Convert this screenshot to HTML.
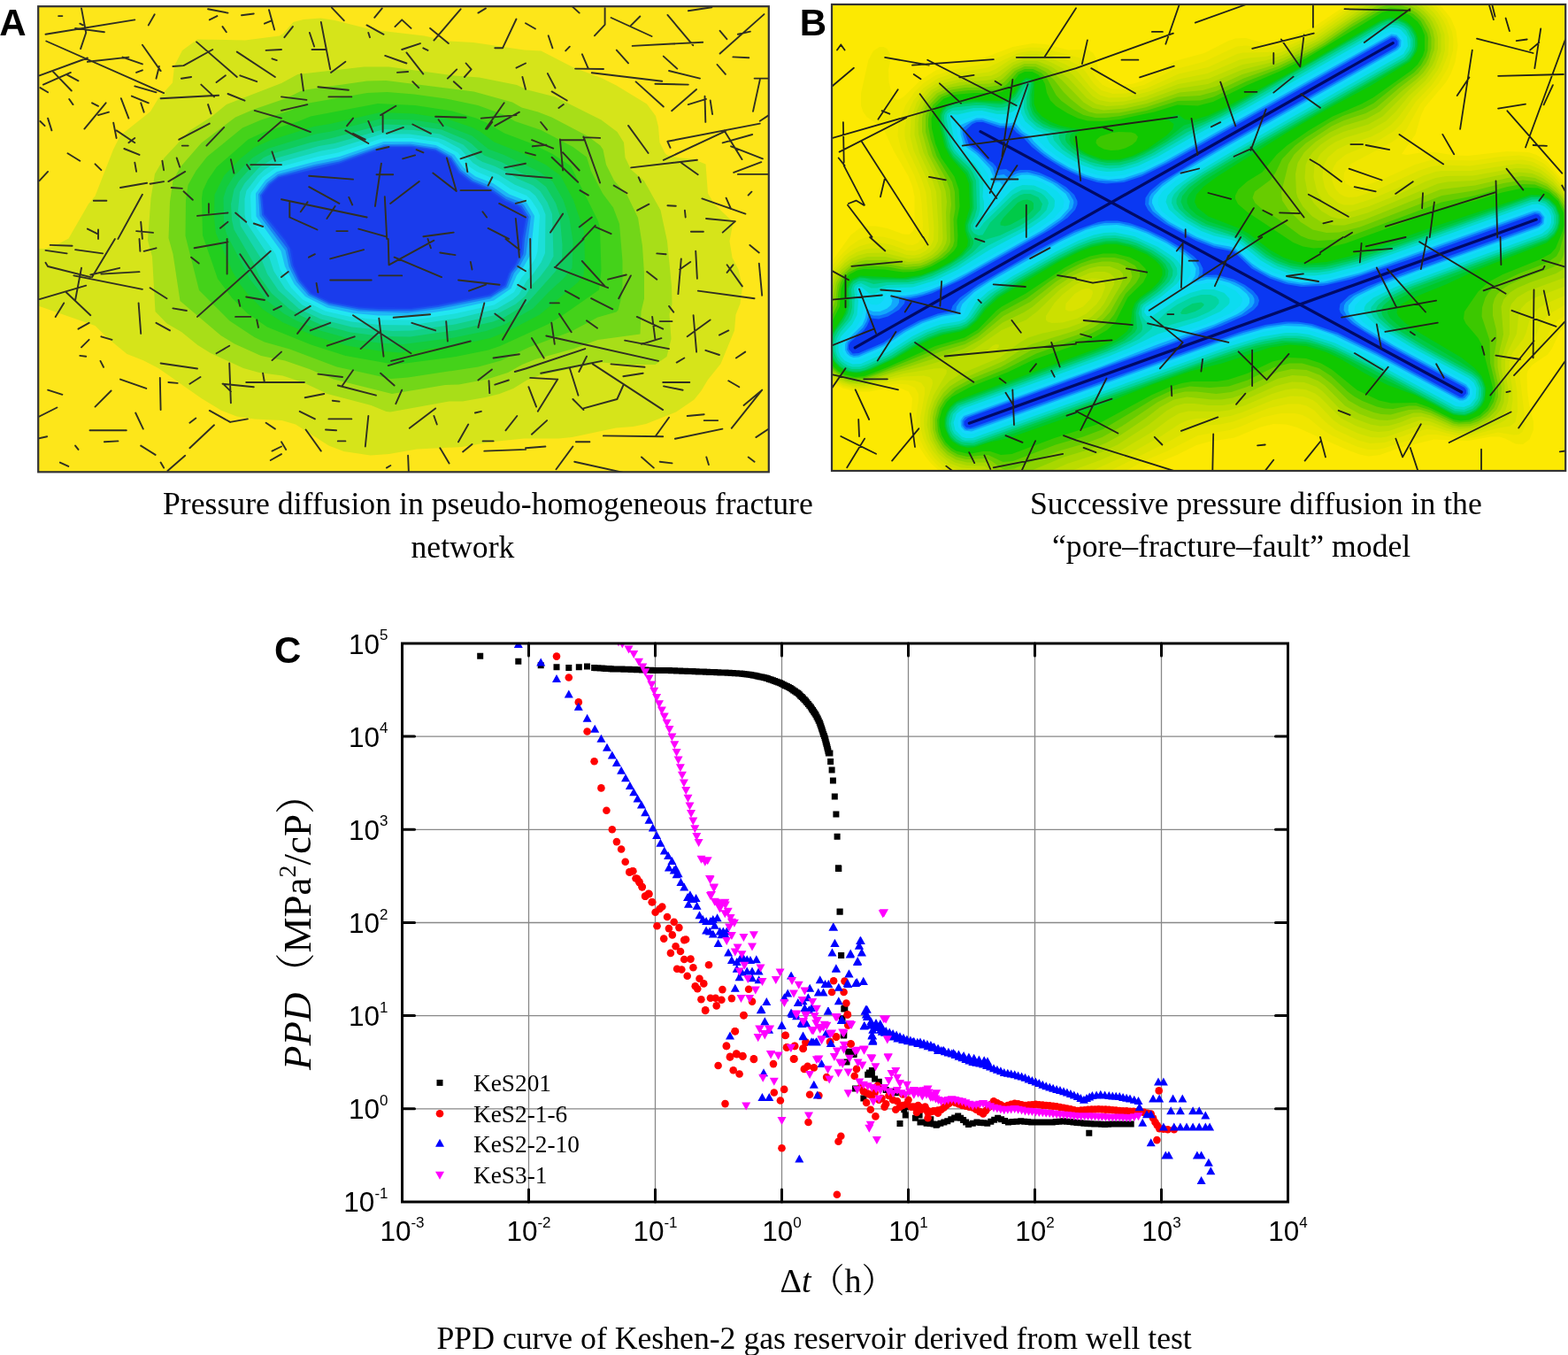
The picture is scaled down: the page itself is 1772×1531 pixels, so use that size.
<!DOCTYPE html>
<html><head><meta charset="utf-8"><title>Figure</title>
<style>html,body{margin:0;padding:0;background:#fff;width:1772px;height:1531px;overflow:hidden}
#w{position:relative;width:1772px;height:1531px} svg text{fill:#000}</style></head>
<body><div id="w">
<svg style="position:absolute;left:0;top:0" width="1772" height="1531">
<defs><clipPath id="ca"><rect x="43.2" y="7.2" width="825.5999999999999" height="526.0999999999999"/></clipPath></defs>
<g clip-path="url(#ca)"><rect x="43.2" y="7.2" width="825.5999999999999" height="526.0999999999999" fill="#fde61a"/>
<path d="M43.0 281.0 43.0 345.5 107.5 368.0 121.0 381.5 143.5 400.0 161.5 407.0 179.0 416.0 227.5 450.0 250.5 464.0 267.5 470.5 287.5 473.5 318.5 475.0 334.0 479.5 371.5 503.5 388.5 510.0 418.5 514.5 439.5 513.0 471.0 507.5 521.5 505.0 557.5 499.0 592.0 495.5 631.0 495.5 646.5 494.0 696.0 483.5 715.5 482.0 730.0 479.0 764.0 465.5 784.5 451.5 792.5 441.5 800.0 429.0 814.5 411.0 830.0 373.5 831.5 355.5 836.5 343.0 839.0 324.5 834.5 304.5 827.5 291.0 824.5 272.5 828.5 251.0 807.5 231.0 800.0 218.5 797.5 185.5 784.0 180.0 765.5 178.0 753.5 175.0 751.5 173.0 745.5 161.0 744.0 143.0 741.0 131.0 731.0 117.5 696.5 96.5 680.5 88.5 646.5 75.5 611.5 57.5 592.5 56.5 535.0 48.0 506.5 46.5 479.5 40.5 420.0 33.5 378.5 23.0 362.5 20.5 343.0 22.0 331.5 25.0 320.0 38.0 316.0 40.5 277.0 45.5 223.0 44.5 206.0 57.0 197.0 74.5 195.0 93.5 179.0 111.0 170.0 126.0 136.0 153.0 128.0 169.0 107.5 221.5 100.0 230.5 77.5 269.5 60.5 278.5 50.0 281.0z" fill="#d6e41a" fill-rule="evenodd"/>
<path d="M175.0 196.5 170.5 224.0 167.0 271.5 172.0 290.0 175.5 352.0 188.5 365.5 205.0 375.0 223.5 390.0 238.0 399.0 275.0 416.0 293.0 421.0 319.5 424.5 343.5 432.5 370.0 445.0 419.5 458.0 436.5 465.0 441.0 465.5 507.5 453.5 522.5 453.5 548.5 449.0 564.5 445.0 580.0 439.0 595.5 429.5 610.0 424.0 679.5 409.5 711.5 412.0 740.5 412.0 753.5 403.0 758.5 383.0 756.5 355.0 759.5 343.5 759.0 323.5 754.0 272.5 746.5 237.5 728.0 204.5 713.0 191.5 706.5 178.0 705.0 161.0 697.5 149.0 679.5 135.5 627.5 109.5 596.0 101.5 584.0 96.0 541.5 87.5 513.5 85.5 439.5 75.5 411.5 75.5 336.5 84.0 318.0 94.0 256.0 118.0 239.5 131.5 214.5 147.5 185.5 178.5z" fill="#a8de18" fill-rule="evenodd"/>
<path d="M195.5 204.0 192.0 228.0 190.5 269.0 195.5 287.0 203.5 340.0 249.5 379.0 265.0 388.5 295.0 402.0 322.0 407.5 349.5 417.0 377.0 428.5 443.0 445.0 503.0 435.0 518.5 434.5 550.5 428.5 574.0 421.0 590.0 412.0 605.0 406.0 648.5 394.0 675.5 384.0 723.5 377.5 724.5 352.0 728.0 337.5 728.0 309.0 726.0 278.0 721.0 246.0 709.0 221.0 694.0 204.0 685.0 186.0 681.5 169.0 678.5 164.5 664.5 154.0 623.5 132.5 608.0 126.5 589.5 121.5 579.0 115.5 535.5 103.5 436.5 91.0 415.0 91.5 342.0 102.0 323.5 111.0 287.0 123.5 266.0 132.5 227.5 161.5 204.0 188.5z" fill="#72d618" fill-rule="evenodd"/>
<path d="M212.5 209.0 210.0 226.5 209.5 266.5 225.0 328.0 259.5 362.5 287.5 381.0 299.0 386.5 327.5 394.5 380.5 414.5 442.0 428.0 461.0 426.5 540.5 414.5 566.0 407.5 597.5 392.5 645.5 374.5 675.5 358.5 696.5 352.5 698.5 350.5 702.0 337.0 703.5 322.0 703.5 295.0 700.0 253.0 693.0 234.5 681.0 218.5 668.0 193.5 663.0 177.5 647.5 166.0 611.5 147.0 582.0 137.0 569.0 129.5 540.0 119.0 504.0 111.5 468.0 106.5 437.5 104.0 415.0 105.0 346.0 117.0 329.0 124.5 295.0 135.5 274.0 144.5 234.0 177.0 221.5 193.0z" fill="#44d21a" fill-rule="evenodd"/>
<path d="M229.0 216.0 228.0 224.5 229.0 266.0 246.0 315.0 262.5 337.0 279.5 354.0 302.0 369.5 351.5 389.5 390.5 402.0 444.0 411.5 450.5 411.5 515.0 403.0 552.0 395.5 565.0 391.0 619.0 366.5 634.0 357.5 677.0 327.5 679.5 305.0 678.0 257.5 676.0 250.0 645.0 187.5 624.5 174.0 599.0 161.5 570.0 150.5 548.5 138.0 538.0 133.5 511.0 125.5 469.0 119.0 427.0 117.0 351.0 131.5 337.5 137.0 299.0 149.0 280.5 157.5 245.0 188.5 235.0 203.0z" fill="#22ce1e" fill-rule="evenodd"/>
<path d="M242.5 220.0 242.0 247.0 244.0 263.5 262.5 306.5 271.5 321.5 279.0 331.0 297.0 349.5 320.0 364.5 356.5 380.0 391.5 390.5 428.5 396.5 452.0 398.5 514.5 390.5 554.0 382.0 574.5 374.0 610.0 355.5 653.0 319.0 659.5 311.0 661.0 295.0 660.0 261.5 648.0 226.0 633.5 198.5 616.5 186.0 590.0 173.0 558.5 160.5 543.0 149.0 533.5 144.0 504.0 134.0 467.5 128.5 429.5 127.0 373.0 140.0 354.5 143.0 305.5 158.5 287.5 166.5 272.0 179.0 253.5 198.0z" fill="#14cc3c" fill-rule="evenodd"/>
<path d="M252.5 223.5 253.0 252.0 256.0 264.5 282.5 315.5 301.5 339.5 321.0 354.5 335.5 362.5 360.0 373.0 396.0 383.0 428.0 387.5 455.5 389.0 513.0 381.5 549.5 374.0 570.5 366.5 602.5 348.5 620.5 329.5 636.5 315.0 646.5 303.0 647.5 273.0 643.5 247.0 636.5 226.0 624.5 205.0 609.5 194.0 569.5 175.0 552.0 168.5 533.5 153.5 500.5 140.5 467.0 135.5 429.0 134.5 374.5 148.5 356.5 151.5 302.5 168.0 285.0 178.5 263.5 200.0 256.0 212.5z" fill="#10cc5c" fill-rule="evenodd"/>
<path d="M264.5 214.0 261.0 230.5 262.0 248.5 264.5 259.5 286.5 297.0 293.0 312.0 307.0 331.5 327.0 349.0 340.5 357.0 362.0 366.5 396.0 375.5 431.5 380.0 463.5 380.5 516.0 373.0 557.0 363.5 570.0 358.5 595.0 343.5 627.0 307.5 635.0 296.0 635.5 277.0 632.5 243.0 628.0 229.5 617.0 211.0 606.0 202.5 589.5 195.5 567.5 183.5 547.0 175.5 533.0 162.5 525.5 157.5 499.0 146.5 465.5 141.5 433.5 140.5 375.0 156.0 351.0 161.0 308.0 173.5 298.0 178.0 283.0 190.0 270.0 204.5z" fill="#12d086" fill-rule="evenodd"/>
<path d="M271.0 217.0 269.0 237.5 272.0 255.5 295.5 293.0 302.0 309.5 314.5 328.0 338.0 349.0 362.5 360.5 397.5 369.5 443.5 374.0 466.5 373.5 514.0 366.5 559.5 356.0 583.0 343.5 593.5 334.5 602.0 321.0 610.5 312.5 620.0 300.0 625.5 289.5 624.0 242.0 618.5 228.5 610.5 216.0 602.5 209.5 584.0 201.5 575.0 195.5 558.5 187.5 545.5 183.0 539.5 179.5 523.5 163.5 497.0 151.5 467.5 147.0 434.0 146.0 378.0 162.0 360.5 165.0 307.5 180.0 292.5 189.5 276.5 207.0z" fill="#16d6b0" fill-rule="evenodd"/>
<path d="M278.5 215.5 276.5 224.5 276.5 242.5 278.5 251.5 304.0 290.0 309.5 306.5 322.0 326.0 341.5 344.5 364.5 355.5 397.0 363.5 428.0 367.0 464.0 367.5 517.5 359.5 561.5 349.0 579.5 338.5 586.5 332.5 595.0 317.5 602.5 309.5 611.5 296.5 616.0 286.0 616.5 242.5 612.5 232.5 605.0 221.0 598.5 215.5 581.5 208.5 563.0 197.0 542.5 189.0 534.5 184.0 520.0 168.0 502.5 158.5 495.0 156.0 462.5 151.5 431.5 151.5 380.0 167.5 363.0 170.5 310.0 185.0 299.0 191.5 291.5 198.5z" fill="#1cdfd8" fill-rule="evenodd"/>
<path d="M284.0 217.5 283.0 221.5 284.0 247.0 291.0 259.0 311.5 287.0 316.5 304.5 329.0 325.0 342.0 338.5 367.5 351.5 396.0 358.0 428.0 361.5 467.0 361.5 513.5 354.5 558.5 344.5 581.0 330.0 589.5 313.5 595.5 307.0 605.0 292.0 607.5 284.0 610.0 243.5 607.5 237.0 600.0 225.5 595.0 221.0 577.0 213.5 564.0 204.5 539.0 194.0 530.0 188.0 517.5 172.5 495.0 160.5 465.0 156.0 431.0 156.5 382.0 172.5 359.0 177.0 311.0 190.0 296.5 200.5z" fill="#22e6f2" fill-rule="evenodd"/>
<path d="M289.0 218.5 289.5 244.5 317.5 283.5 322.0 301.0 332.5 321.0 345.0 335.0 369.5 347.5 399.5 354.0 428.0 356.5 466.5 356.5 512.5 349.5 558.0 339.5 577.5 326.0 584.0 311.0 592.0 301.0 598.5 289.5 600.0 284.0 604.0 244.0 595.5 229.5 592.0 226.0 575.5 219.5 557.0 207.0 537.5 199.5 524.0 189.5 513.5 175.0 492.5 164.0 465.5 160.0 434.0 160.0 383.5 177.0 354.5 183.0 313.0 194.0 300.0 203.5z" fill="#1eb8f6" fill-rule="evenodd"/>
<path d="M292.0 219.5 293.5 244.0 322.5 283.0 326.5 301.5 335.0 318.5 348.5 334.0 371.5 345.0 405.0 351.5 460.5 353.5 496.5 349.0 554.0 337.5 574.0 325.0 581.0 308.5 587.5 300.5 594.5 287.5 600.0 244.5 592.0 231.5 587.5 228.0 572.0 222.0 556.5 211.0 535.5 202.5 521.5 192.0 510.5 176.5 493.5 167.0 463.5 162.5 433.5 163.0 383.0 180.5 355.5 186.0 314.0 197.0 302.0 206.0z" fill="#1a88f2" fill-rule="evenodd"/>
<path d="M294.0 220.5 296.0 243.0 324.5 280.5 329.0 300.5 337.5 318.0 350.0 332.5 371.5 343.0 406.0 349.5 428.5 351.0 465.0 351.0 495.0 347.0 555.0 335.0 572.0 324.0 578.0 308.5 585.0 299.5 591.5 287.0 593.0 270.0 597.5 245.0 589.5 232.5 572.0 225.0 555.0 213.0 534.0 204.5 519.5 193.0 510.0 178.5 492.0 168.5 465.0 164.5 435.0 164.5 383.5 182.5 356.5 188.0 314.5 199.0 303.5 207.5z" fill="#1a5af0" fill-rule="evenodd"/>
<path d="M296.0 220.5 298.0 242.0 321.5 271.0 327.5 280.5 331.0 299.5 338.5 316.0 351.5 331.5 372.5 341.5 405.5 347.5 428.5 349.0 465.0 349.0 495.0 345.0 553.5 333.5 571.0 322.0 575.5 309.0 583.0 298.5 589.5 284.5 590.5 270.0 595.0 245.0 588.5 235.0 585.5 232.5 571.0 227.0 553.5 214.5 532.0 205.5 518.5 195.0 508.5 179.5 492.0 170.0 465.0 166.0 435.5 166.0 383.5 184.5 315.0 200.5 305.0 208.5z" fill="#1a42ee" fill-rule="evenodd"/>
<path d="M297.5 222.0 299.5 240.5 324.0 271.0 330.5 283.0 332.5 298.0 340.0 315.0 352.5 330.0 374.0 340.0 407.0 346.0 463.5 347.5 493.5 343.5 552.0 332.0 569.0 321.5 576.0 304.0 582.0 296.5 587.5 285.0 589.0 267.5 593.0 245.5 586.5 235.5 569.0 228.0 551.5 215.5 531.5 207.5 517.0 196.0 507.5 181.0 490.5 171.5 463.5 167.5 435.0 168.0 383.0 186.5 357.5 191.5 316.5 202.0 306.5 209.5z" fill="#1a3cec" fill-rule="evenodd"/>

<path d="M51.5 38.8L152.3 22.4M92.0 9.4L97.2 37.0M97.2 37.0L91.1 55.1M85.1 31.9L117.9 36.2M52.3 46.5L185.1 105.1M44.6 85.3L98.9 65.5M98.9 69.8L145.4 64.6M138.5 64.6L160.9 72.4M48.9 95.6L79.9 81.9M59.2 80.1L80.8 102.5M45.4 99.1L54.1 104.3M75.6 84.4L88.5 91.3M167.8 28.4L174.7 16.3M160.9 50.8L181.6 80.1M176.5 88.7L179.9 75.0M154.1 81.9L160.9 79.3M152.3 97.4L176.5 104.3M195.4 75.0L207.5 74.1M207.5 74.1L240.2 56.0M222.1 47.4L267.8 87.0M267.8 58.6L310.9 87.0M244.6 93.1L254.9 85.3M271.3 85.3L290.2 92.2M204.9 88.7L216.1 87.0M181.6 111.2L247.1 107.7M227.3 95.6L242.0 109.4M257.5 106.0L276.5 113.7M235.1 118.1L238.5 128.4M136.8 111.2L145.4 133.6M148.9 108.6L167.8 116.3M159.2 116.3L162.7 126.7M95.4 145.6L119.6 116.3M104.1 116.3L111.0 119.8M111.0 130.1L123.0 126.7M54.1 133.6L58.4 147.4M45.4 137.0L50.6 142.2M128.2 138.7L131.6 156.0M131.6 147.4L152.3 161.2M140.3 168.0L157.5 174.9M145.4 161.2L152.3 156.0M202.3 157.7L236.8 139.6M233.4 164.6L253.2 143.9M205.8 164.6L212.7 164.6M287.7 124.9L318.0 133.6M292.0 159.4L318.0 137.0M307.5 171.5L310.9 181.8M260.9 180.1L264.4 195.6M283.3 186.1L318.0 186.1M279.0 186.1L282.5 191.3M152.3 183.6L154.1 193.9M183.4 181.8L185.1 192.2M199.7 178.4L203.2 188.7M190.3 205.1L209.2 193.9M136.0 212.0L166.1 206.8M169.6 207.7L185.1 205.1M193.7 212.0L205.8 212.9M207.5 216.3L217.8 225.8M105.8 226.7L120.4 226.7M160.9 219.8L133.4 269.9M235.9 230.1L235.9 240.5M223.0 243.9L257.5 240.5M266.1 240.5L278.2 250.8M248.9 257.7L257.5 250.8M286.8 252.5L297.1 256.0M98.9 258.6L111.0 264.6M111.0 259.4L111.0 269.9M159.2 250.8L160.9 269.9M154.1 261.1L173.0 262.9M44.6 204.2L54.1 193.9M76.5 173.2L90.3 181.8M107.5 185.3L114.4 192.2M66.1 18.1L70.4 18.1M235.1 10.3L257.5 14.6M236.8 22.4L245.4 18.1M273.0 17.2L286.8 15.5M304.0 11.2L310.1 33.6M298.9 26.7L307.5 23.2M251.5 30.1L255.8 36.2M300.6 56.9L318.0 56.0M307.5 66.3L312.7 68.1M78.2 112.0L82.5 118.1M90.3 26.7L93.7 28.4M374.9 8.6L388.7 23.2M423.2 19.8L431.8 9.4M362.8 25.0L373.2 78.4M349.9 37.0L355.1 52.5M352.5 56.0L368.0 56.0M374.0 81.9L390.4 69.8M321.4 42.2L330.9 30.1M414.5 28.4L433.5 38.8M416.3 37.0L418.0 42.2M446.4 30.1L454.2 22.4M454.2 22.4L464.5 31.9M486.1 31.9L506.8 49.1M490.4 45.6L520.6 10.3M540.4 14.6L549.0 9.4M559.3 54.3L568.0 54.3M568.0 54.3L583.5 21.5M435.2 62.9L459.4 71.5M454.2 56.0L474.9 49.1M478.3 54.3L483.5 56.9M459.4 59.4L478.3 83.6M449.0 81.9L461.1 81.0M505.9 88.7L516.2 78.4M512.8 92.2L521.4 100.0M526.6 71.5L532.6 78.4M532.6 78.4L524.9 87.0M583.5 76.7L594.0 71.5M590.4 87.0L594.0 100.8M340.4 83.6L343.0 102.5M359.4 98.2L393.9 101.7M371.4 109.4L397.3 109.4M318.0 109.4L346.4 112.9M318.0 124.9L347.3 118.1M319.7 137.0L350.8 149.1M466.3 92.2L473.2 99.1M392.1 142.2L399.0 133.6M390.4 147.4L416.3 162.0M399.0 150.8L412.8 157.7M416.3 137.0L421.4 149.1M430.1 130.1L447.3 119.8M432.6 130.1L432.6 149.1M436.9 150.8L455.9 143.9M466.3 140.5L486.9 150.8M492.1 131.8L526.6 132.7M495.6 135.3L500.7 142.2M549.0 145.6L569.7 116.3M543.8 133.6L583.5 130.1M559.3 142.2L586.9 126.7M349.2 198.7L399.0 202.6M430.9 184.7L423.9 233.0M425.5 197.2L444.2 197.2M441.1 229.9L473.8 205.0M434.8 222.1L437.2 269.9M489.3 195.6L515.8 215.9M504.9 178.5L515.8 215.9M520.5 215.1L554.8 215.1M520.5 179.3L543.9 171.5M526.7 184.7L528.3 194.1M551.6 209.6L556.3 200.3M349.2 211.2L383.4 229.9M318.0 225.2L414.6 245.5M327.3 228.3L327.3 245.5M327.3 245.5L358.5 259.5M339.8 239.2L347.6 228.3M369.4 247.0L378.7 233.0M394.3 222.9L398.2 231.5M425.5 169.2L439.5 166.0M455.1 179.3L469.1 175.4M470.6 169.2L478.4 172.3M380.3 261.1L392.8 261.1M405.2 258.7L436.4 267.3M478.4 267.3L512.7 262.6M545.4 239.2L550.1 245.5M551.6 257.9L575.0 269.9M564.1 229.9L594.0 245.5M582.8 247.0L585.1 269.9M570.3 189.4L594.0 184.7M571.9 196.4L594.0 198.7M582.8 229.9L594.0 226.8M550.1 145.8L556.3 138.0M647.0 7.6L654.7 14.6M683.6 9.1L683.6 27.8M683.6 27.8L671.9 40.3M690.6 20.0L736.5 41.0M712.4 29.4L723.3 18.5M594.0 26.2L604.9 32.5M619.7 40.3L624.4 54.3M639.2 57.4L643.8 52.7M657.9 61.3L664.9 77.6M650.1 77.6L682.0 78.0M668.8 82.3L748.2 91.7M696.8 56.6L710.0 71.4M714.7 51.9L794.2 47.7M754.4 16.9L783.2 51.2M749.8 63.6L765.3 77.6M756.0 80.0L791.0 88.6M718.6 92.4L749.8 120.5M740.4 94.8L777.8 95.6M759.1 125.2L787.1 101.0M777.8 118.1L798.0 111.9M796.5 108.8L797.3 137.9M802.7 113.5L805.1 129.1M813.6 34.8L821.4 44.2M813.6 60.5L863.5 16.1M833.9 38.7L847.9 35.6M810.5 73.0L819.9 83.9M828.4 64.4L846.3 65.2M858.8 90.1L851.0 125.9M852.6 88.6L868.1 88.6M858.8 136.8L868.1 130.6M777.8 12.2L804.3 8.3M618.9 83.1L627.5 99.5M623.6 103.4L640.7 113.5M631.4 122.0L636.8 118.1M611.1 138.0L618.1 146.6M710.0 141.9L732.6 173.0M754.4 159.8L757.5 166.8M754.4 159.8L858.8 139.6M749.8 180.8L819.9 148.1M818.3 147.3L838.5 180.1M816.7 161.4L850.2 152.0M826.1 165.3L861.9 179.3M829.2 194.9L860.3 183.2M833.9 196.9L868.1 196.9M713.2 189.4L787.9 180.8M770.0 183.9L788.7 197.2M721.7 200.3L724.1 205.8M793.4 224.4L842.4 241.6M820.6 223.7L826.1 236.1M798.0 247.0L830.8 250.1M830.8 250.1L816.7 262.6M780.9 261.8L794.9 261.8M773.9 237.7L774.7 245.5M754.4 232.2L763.8 232.7M720.2 237.7L733.4 230.7M693.7 209.6L708.5 218.2M655.5 215.1L664.9 220.6M659.4 155.1L678.1 155.9M659.4 154.4L678.1 206.5M632.9 157.5L636.1 192.5M633.7 158.2L659.4 158.2M601.0 158.2L625.2 167.6M601.8 165.3L617.4 163.7M623.6 177.7L653.2 205.8M636.1 172.3L654.7 192.5M594.0 198.7L623.6 201.1M594.0 172.3L604.9 175.4M622.0 262.6L636.1 241.6M654.7 256.4L668.8 245.5M658.6 269.9L672.7 254.8M672.7 256.4L690.6 264.2M845.6 220.6L849.4 216.7M56.7 276.9L81.6 277.8M51.5 282.9L75.6 286.4M85.1 282.1L116.1 286.4M129.9 270.0L104.1 313.1M51.5 296.7L54.1 301.0M54.1 301.0L102.3 313.1M92.0 302.8L85.1 339.0M83.4 311.4L160.9 326.9M102.3 310.5L135.1 302.8M114.4 309.6L157.5 307.1M44.6 338.1L97.2 322.6M74.8 330.3L102.3 356.2M62.7 357.9L72.2 342.4M88.5 371.7L100.6 364.8M92.0 392.4L100.6 383.8M114.4 380.3L126.5 383.8M156.6 342.4L159.2 376.9M169.6 325.2L188.5 337.2M176.5 364.8L192.0 373.4M157.5 270.0L158.4 283.8M162.7 283.8L176.5 280.3M195.4 348.4L210.9 351.0M216.1 290.7L224.7 297.6M219.6 280.3L257.5 273.4M256.6 270.0L256.6 309.6M271.3 287.2L303.2 334.6M223.0 357.9L305.8 283.8M266.1 357.9L283.3 357.9M278.2 335.5L298.9 339.0M290.2 361.4L292.0 370.0M269.6 339.0L271.3 345.9M244.6 399.3L259.2 390.7M307.5 407.1L318.0 397.6M309.2 350.2L318.0 345.9M181.6 410.5L223.0 416.5M214.4 433.8L226.5 426.0M259.2 410.5L260.9 455.3M251.5 433.8L286.8 437.2M252.3 433.8L260.9 442.4M278.2 432.0L318.0 432.0M297.1 421.7L298.9 432.0M190.3 432.0L200.6 432.9M180.8 426.9L181.6 463.1M136.0 428.6L165.3 438.9M107.5 459.6L125.6 441.5M54.1 440.7L70.4 445.8M42.0 471.7L64.4 460.5M113.5 407.9L117.0 414.8M90.3 401.9L97.2 402.7M236.8 463.9L260.1 476.9M260.1 476.9L279.9 473.4M214.4 477.7L221.3 472.6M153.2 466.5L161.8 484.6M101.5 486.3L142.8 486.3M117.9 499.3L133.4 498.4M214.4 506.2L242.0 480.3M300.6 477.7L310.9 484.6M307.5 509.6L318.0 504.5M305.8 520.0L318.0 513.1M42.0 495.8L53.2 493.2M159.2 503.6L175.6 513.9M189.4 532.0L209.2 514.8M181.6 522.6L185.1 528.6M67.9 522.6L77.3 526.9M85.1 503.6L88.5 507.9M318.0 313.1L325.8 307.1M349.0 290.7L355.9 287.2M373.2 292.4L411.1 282.1M438.7 270.0L439.5 299.3M439.5 299.3L490.4 271.7M445.6 290.7L499.0 313.1M483.5 270.0L486.9 280.3M497.3 285.5L514.5 288.1M531.8 295.9L533.5 304.5M571.4 270.0L586.9 282.1M585.2 270.0L586.9 290.7M357.6 320.0L359.4 330.3M373.2 316.5L419.7 316.5M428.3 311.4L454.2 311.4M518.0 316.5L564.5 321.7M530.0 328.6L549.0 321.7M540.4 370.0L547.3 342.4M559.3 354.5L569.7 362.2M568.0 383.8L594.0 339.0M585.2 301.0L594.0 306.2M585.2 321.7L594.0 326.9M333.5 356.2L350.8 345.9M336.1 376.9L349.9 358.8M350.8 373.4L373.2 364.8M369.7 390.7L400.7 380.3M399.0 356.2L464.5 399.3M428.3 359.6L433.5 402.7M407.6 394.1L428.3 375.2M442.1 407.9L531.8 385.5M438.7 413.1L455.9 407.9M504.2 363.1L505.9 385.5M465.4 364.8L492.1 373.4M444.7 358.8L486.1 355.3M557.6 404.5L586.9 400.2M581.8 420.0L594.0 416.5M540.4 429.5L555.9 417.4M552.5 430.3L553.3 444.1M559.3 434.6L574.9 429.5M359.4 422.6L387.0 426.0M318.0 432.0L343.9 432.0M387.0 435.5L399.0 418.3M381.8 435.5L424.9 446.7M430.1 421.7L445.6 435.5M447.3 456.2L454.2 440.7M344.7 449.3L366.3 445.0M375.8 452.7L383.5 453.6M338.7 464.8L355.9 473.4M371.4 473.4L397.3 473.4M416.3 470.0L412.8 504.5M462.8 483.8L492.1 461.4M490.4 470.0L493.8 479.5M518.0 499.3L529.2 479.5M536.9 466.5L543.8 464.8M571.4 486.3L584.3 470.0M545.6 498.4L557.6 498.4M523.1 510.5L533.5 501.9M547.3 509.6L594.0 507.9M497.3 506.2L507.6 523.4M461.1 514.8L461.9 533.9M368.0 485.5L380.1 486.3M381.8 498.4L390.4 498.4M345.6 485.5L362.8 509.6M318.0 499.3L323.2 507.9M436.9 528.6L441.3 526.0M628.5 301.0L659.5 270.0M626.8 301.9L687.1 325.2M657.8 295.0L683.6 323.4M687.1 315.7L707.8 310.5M699.2 337.2L712.9 311.4M599.2 270.0L600.0 325.2M621.6 342.4L631.9 342.4M631.9 354.5L645.7 375.2M638.8 328.6L654.3 337.2M668.1 337.2L692.3 349.3M663.0 362.2L675.0 370.8M623.3 364.8L626.8 388.9M617.3 379.5L744.0 407.9M600.9 382.1L614.7 404.5M594.0 416.5L661.2 394.1M611.2 421.7L680.2 407.9M654.3 420.0L663.0 402.7M644.0 416.5L653.5 446.7M599.2 426.9L630.2 428.6M597.4 437.2L606.1 459.6M607.8 464.8L630.2 428.6M647.4 451.0L659.5 463.1M659.5 461.4L697.4 451.0M697.4 451.0L704.3 435.5M669.9 411.4L749.2 463.1M690.5 411.4L728.5 414.8M704.3 425.2L726.7 421.7M706.1 384.6L756.0 394.1M725.0 388.9L747.4 382.1M719.8 357.9L749.2 371.7M737.1 357.9L740.5 383.8M745.7 363.1L759.5 363.1M756.0 345.9L761.2 352.7M749.2 432.0L779.3 432.0M750.0 436.4L771.6 440.7M766.4 332.1L769.8 292.4M768.1 304.5L780.2 295.9M786.2 283.8L787.9 314.8M731.1 307.1L742.3 315.7M742.3 286.4L752.6 287.2M847.4 276.9L857.8 285.5M788.8 328.6L852.6 337.2M821.6 299.3L838.8 323.4M821.6 307.9L828.5 299.3M857.8 297.6L861.2 333.8M783.6 356.2L787.1 397.6M776.7 380.3L802.6 361.4M797.4 395.8L812.9 401.0M812.9 378.6L823.3 373.4M764.7 409.6L773.3 404.5M831.9 404.5L842.2 397.6M823.3 430.3L835.3 437.2M861.2 440.7L840.5 457.9M776.7 470.0L795.7 468.2M795.7 475.1L811.2 475.1M681.9 492.4L749.2 493.2M740.5 493.2L756.0 471.7M762.9 495.8L816.4 484.6M600.9 490.7L618.1 475.1M650.9 499.3L666.4 499.3M594.0 506.2L616.4 504.5M628.5 530.3L647.4 504.5M649.2 521.7L704.3 533.9M725.0 516.5L738.8 528.6M745.7 521.7L759.5 523.4M798.3 516.5L800.9 525.1M845.7 516.5L852.6 521.7M826.7 483.8L861.2 440.7M854.3 494.1L870.0 483.8" stroke="#302f22" stroke-width="1.9" fill="none" stroke-linecap="round"/>
</g>
<rect x="43.2" y="7.2" width="825.5999999999999" height="526.0999999999999" fill="none" stroke="#333" stroke-width="2.2"/>
</svg>
<svg style="position:absolute;left:0;top:0" width="1772" height="1531">
<defs><clipPath id="cb"><rect x="940" y="5" width="829.2" height="527"/></clipPath></defs>
<g clip-path="url(#cb)"><rect x="940" y="5" width="829.2" height="527" fill="#fce902"/>
<path d="M1768.5 206.5 1748.5 182.5 1736.5 175.0 1727.0 172.0 1703.5 171.0 1659.0 176.0 1644.0 175.5 1621.0 172.0 1605.0 172.5 1590.0 175.0 1584.0 174.0 1599.5 152.0 1606.0 130.0 1610.0 121.5 1634.0 93.0 1639.5 83.5 1644.5 70.0 1647.5 51.5 1645.5 34.5 1639.5 20.5 1627.0 5.0 1522.5 5.0 1485.5 30.0 1451.0 45.0 1438.5 48.5 1429.5 49.0 1408.0 43.0 1396.0 43.5 1387.5 46.5 1361.0 60.0 1327.5 69.0 1303.0 85.0 1290.5 91.5 1281.0 94.5 1269.0 96.0 1254.5 93.5 1245.5 86.5 1241.5 79.0 1238.5 65.5 1235.5 60.0 1231.0 57.0 1227.0 56.0 1207.5 56.5 1181.5 50.0 1167.0 49.0 1144.5 53.0 1103.5 68.5 1068.0 76.0 1057.5 79.5 1041.0 90.0 1021.5 109.0 1016.0 112.5 1013.5 112.5 1010.5 110.5 1008.5 107.0 1004.5 93.0 1004.0 79.0 1006.0 69.5 1006.0 61.0 1002.5 55.0 998.5 53.0 994.0 53.0 987.0 57.5 981.5 67.5 973.0 105.5 973.0 119.5 975.5 126.5 979.5 132.0 994.5 142.5 999.0 147.0 1010.0 170.5 1026.5 199.0 1031.0 210.5 1033.5 222.0 1033.5 255.5 1032.0 261.0 1027.5 265.0 1020.5 264.5 1002.5 258.0 990.0 255.5 980.0 255.5 972.0 257.5 961.5 265.5 940.0 295.5 940.0 432.0 952.0 438.5 967.5 442.5 982.5 442.5 1004.0 438.0 1016.0 438.0 1027.0 442.5 1031.0 450.0 1029.0 478.5 1031.5 490.0 1038.0 503.5 1046.0 516.0 1052.0 523.5 1062.0 532.5 1287.5 532.5 1295.5 528.0 1330.0 514.0 1352.0 503.0 1366.5 499.0 1395.0 494.5 1423.0 483.0 1439.0 479.0 1453.5 479.5 1466.0 483.0 1523.0 508.5 1536.5 513.5 1546.5 515.5 1559.5 514.0 1581.5 506.0 1620.5 496.5 1659.0 498.0 1684.5 493.5 1694.5 493.5 1701.0 495.5 1712.5 501.5 1721.0 502.0 1728.5 496.5 1733.0 485.5 1733.0 476.5 1728.0 457.0 1726.0 440.5 1725.5 423.0 1726.5 419.0 1732.0 412.0 1749.0 400.5 1753.5 394.5 1762.5 375.5 1768.5 369.0z" fill="#f0e600" fill-rule="evenodd"/>
<path d="M1768.5 210.5 1754.0 193.0 1744.5 184.5 1731.5 178.0 1717.0 175.5 1695.5 177.0 1665.0 181.5 1618.5 180.5 1599.0 186.0 1564.0 202.0 1542.5 210.0 1536.0 211.5 1528.0 211.5 1521.0 207.5 1518.5 202.0 1519.0 195.5 1522.0 190.0 1527.0 185.0 1573.0 160.5 1581.5 154.5 1589.0 147.0 1605.5 117.0 1626.0 94.0 1636.5 76.5 1642.0 57.5 1642.5 45.5 1641.0 36.0 1635.0 21.5 1622.0 5.0 1528.0 5.0 1489.5 32.0 1475.0 39.5 1448.5 50.5 1430.0 54.5 1408.5 51.5 1397.5 52.5 1361.0 69.5 1325.5 79.0 1293.0 96.0 1271.5 101.0 1256.5 100.5 1246.0 96.0 1238.0 87.5 1229.0 71.5 1220.5 65.5 1177.5 54.0 1164.0 53.5 1150.0 56.0 1110.5 72.5 1076.5 79.0 1057.5 85.0 1043.5 94.0 1033.5 104.0 1023.5 118.5 1015.5 138.5 1014.5 153.5 1018.5 168.5 1033.0 197.5 1039.5 215.5 1041.5 229.0 1043.0 255.0 1042.0 268.0 1037.5 274.5 1031.5 277.0 1025.0 276.5 1011.5 271.0 998.0 267.5 986.0 267.0 977.5 268.5 970.0 271.5 960.0 278.5 949.0 289.5 940.0 301.0 940.0 430.0 953.0 437.0 968.0 440.5 982.5 440.0 999.5 435.5 1013.5 433.5 1026.0 434.5 1034.0 438.0 1038.0 445.0 1038.0 452.5 1035.5 467.5 1035.5 482.0 1038.5 494.0 1044.0 506.0 1052.0 518.0 1060.0 526.5 1068.0 532.5 1271.0 532.5 1292.5 521.0 1319.5 509.5 1354.0 492.0 1389.5 486.0 1402.0 482.0 1426.5 471.5 1447.5 467.0 1463.0 467.0 1472.0 469.0 1479.5 473.0 1494.5 485.5 1505.0 492.0 1533.0 504.5 1546.0 508.0 1556.5 508.0 1563.5 506.5 1613.0 491.0 1623.5 491.0 1647.5 495.0 1665.0 494.5 1693.0 488.5 1710.5 491.5 1716.0 491.0 1720.5 488.0 1724.0 479.0 1717.5 424.5 1718.5 412.5 1724.5 405.0 1740.5 394.0 1744.5 388.5 1754.0 369.0 1761.5 361.0 1768.5 356.5z" fill="#e6e400" fill-rule="evenodd"/>
<path d="M1768.5 214.0 1756.0 199.5 1745.5 190.0 1732.5 183.0 1721.0 180.5 1700.5 181.5 1661.0 187.5 1629.5 186.5 1618.0 188.0 1603.0 193.0 1555.0 215.0 1533.0 222.5 1524.0 223.0 1519.5 222.0 1514.0 219.0 1509.0 213.5 1505.5 204.5 1505.0 197.0 1506.5 190.0 1510.5 183.0 1521.0 174.5 1555.0 160.5 1575.5 148.0 1584.0 139.5 1600.0 115.0 1618.5 95.5 1629.0 80.5 1636.5 61.5 1637.5 42.0 1634.0 29.0 1631.0 23.0 1624.5 13.5 1616.5 5.0 1534.0 5.0 1486.0 38.0 1454.5 52.5 1433.0 59.0 1404.5 59.5 1398.0 61.0 1365.0 76.0 1332.0 83.5 1295.5 100.0 1273.0 105.5 1257.5 106.0 1244.5 102.0 1236.0 94.5 1226.5 80.5 1220.5 74.5 1208.0 68.5 1175.5 58.0 1164.0 57.5 1150.5 60.0 1116.0 76.5 1075.5 83.5 1060.0 88.5 1043.5 99.5 1032.0 114.0 1026.5 126.0 1022.5 144.0 1022.5 154.5 1026.0 169.0 1041.5 202.5 1046.5 218.0 1050.0 260.0 1049.5 268.5 1047.5 274.0 1041.5 280.5 1034.0 283.5 1024.5 283.0 1007.0 276.5 995.0 274.5 983.0 275.0 972.0 278.0 964.0 282.0 954.5 289.0 940.0 306.0 940.0 428.0 952.5 435.0 967.5 438.5 981.0 438.0 1000.0 432.5 1018.0 429.5 1033.5 430.0 1041.0 432.5 1045.0 438.0 1045.0 445.0 1040.0 472.0 1040.5 484.0 1043.0 494.5 1049.0 507.5 1056.0 517.5 1065.5 526.5 1075.5 532.5 1253.5 532.5 1323.5 497.5 1347.5 484.0 1360.0 481.0 1378.5 479.5 1393.5 476.5 1434.0 461.0 1455.5 456.5 1468.5 456.5 1476.5 458.5 1485.0 463.5 1498.0 477.0 1510.0 486.0 1535.0 497.5 1548.0 501.0 1565.0 500.0 1599.0 488.0 1612.0 485.0 1622.5 486.0 1642.5 491.5 1662.5 492.0 1693.5 483.5 1706.5 481.5 1712.5 477.0 1715.0 464.5 1714.5 442.5 1711.0 421.5 1712.0 407.5 1717.0 400.0 1732.5 386.0 1739.0 371.0 1745.0 361.0 1753.0 353.5 1768.5 344.5z" fill="#dae200" fill-rule="evenodd"/>
<path d="M1768.5 217.5 1754.0 201.5 1741.0 191.5 1729.0 186.5 1715.0 185.0 1663.0 193.0 1629.0 193.0 1622.5 194.0 1608.5 198.5 1578.5 213.0 1551.0 224.5 1529.0 231.5 1518.5 231.5 1512.5 229.5 1501.5 220.0 1497.0 211.5 1494.5 200.0 1495.5 188.0 1500.5 178.0 1511.5 168.5 1523.5 163.0 1549.5 154.5 1560.5 149.0 1571.5 141.5 1580.0 133.0 1596.5 111.0 1616.0 91.5 1624.5 79.5 1630.0 68.0 1633.0 56.5 1632.5 38.5 1626.5 23.0 1620.5 14.5 1611.0 5.0 1539.5 5.0 1486.5 41.5 1448.0 59.0 1430.5 64.0 1411.0 65.5 1401.0 67.5 1364.5 83.0 1332.0 89.5 1298.5 103.5 1272.0 110.0 1253.0 110.5 1243.0 107.5 1233.0 99.5 1217.5 80.5 1204.5 73.0 1187.0 65.5 1172.0 61.5 1161.0 61.5 1153.5 63.0 1141.0 68.0 1124.5 78.5 1117.0 81.5 1080.0 86.5 1061.5 92.0 1047.5 101.0 1036.0 115.5 1029.5 134.0 1028.5 154.0 1032.5 170.0 1047.0 201.5 1052.0 215.5 1055.5 257.0 1055.0 271.0 1052.0 277.5 1046.0 283.5 1039.5 287.0 1033.0 288.5 1024.5 288.0 1008.5 282.5 998.0 280.5 985.5 280.5 976.5 282.0 968.0 285.0 959.0 290.0 945.5 303.0 940.0 311.5 940.0 426.0 951.0 432.5 966.0 436.5 980.0 436.0 1005.0 428.5 1021.5 425.5 1043.5 424.5 1050.5 426.0 1053.5 429.0 1054.0 433.5 1047.5 454.5 1044.0 473.0 1044.5 484.5 1047.5 496.5 1053.5 508.5 1063.0 520.0 1071.0 526.0 1087.0 532.5 1232.5 532.5 1272.0 515.0 1311.0 493.5 1334.0 478.5 1342.0 475.0 1352.0 473.0 1377.5 472.0 1390.5 470.0 1403.5 466.0 1438.5 452.0 1458.5 447.5 1473.0 448.0 1483.5 452.0 1488.5 455.5 1506.5 474.5 1515.0 480.5 1535.5 490.0 1549.5 494.0 1560.5 494.5 1567.0 493.5 1606.0 480.0 1617.0 480.5 1634.0 486.5 1648.5 489.5 1660.0 489.5 1670.5 487.5 1695.0 478.0 1700.5 475.0 1705.0 470.5 1708.0 463.0 1709.5 452.0 1709.0 437.5 1705.5 419.0 1705.5 409.0 1709.5 398.5 1721.5 383.0 1724.5 376.5 1728.5 361.5 1732.0 355.0 1738.5 348.5 1747.0 343.0 1768.5 334.0zM1234.5 328.5 1235.0 331.0 1233.0 337.0 1224.0 346.5 1212.0 351.5 1207.0 351.5 1204.0 349.5 1204.5 343.0 1214.5 332.0 1222.0 327.5 1227.0 326.0 1231.0 326.0z" fill="#cce000" fill-rule="evenodd"/>
<path d="M1768.5 221.0 1755.0 206.0 1740.5 195.5 1727.0 190.5 1713.0 190.0 1664.5 198.5 1634.5 199.0 1622.5 201.0 1611.0 205.0 1582.0 219.0 1547.5 233.0 1525.5 239.5 1516.0 239.5 1509.0 237.5 1501.0 232.5 1493.0 224.0 1488.0 215.0 1484.5 200.0 1485.5 186.5 1492.0 174.0 1500.5 166.0 1509.0 160.5 1520.5 155.5 1547.5 147.5 1566.0 137.0 1577.5 126.0 1592.0 108.5 1610.5 91.5 1621.5 76.5 1628.5 58.0 1628.5 39.5 1625.0 28.5 1620.5 20.5 1605.5 5.0 1545.5 5.0 1486.5 45.0 1447.5 63.0 1429.5 68.5 1404.0 73.0 1365.5 89.0 1331.5 95.0 1293.5 109.5 1270.5 114.5 1254.5 115.5 1242.0 113.0 1234.5 108.5 1212.5 84.5 1203.5 78.5 1187.0 70.0 1177.5 66.5 1170.0 65.0 1157.5 65.5 1144.0 70.5 1127.0 82.5 1120.0 85.5 1084.0 89.5 1066.0 94.0 1052.0 102.0 1041.0 114.5 1036.5 124.0 1034.0 134.0 1033.5 152.5 1039.0 173.0 1053.5 203.5 1058.0 217.0 1060.5 256.0 1060.0 272.5 1056.5 279.5 1050.5 285.5 1040.0 291.0 1027.0 292.5 999.0 285.5 980.0 286.0 970.0 288.5 961.5 292.5 955.0 297.0 946.5 306.0 940.0 317.5 940.0 424.0 948.5 429.5 959.0 433.5 976.5 434.5 1021.5 422.0 1056.0 416.5 1064.0 416.0 1068.5 417.0 1070.0 418.5 1069.5 422.0 1055.0 446.5 1049.0 464.0 1047.5 480.0 1051.0 496.5 1060.0 512.0 1073.5 523.5 1086.5 528.5 1109.0 530.0 1114.5 532.5 1209.0 532.5 1244.5 519.5 1261.5 512.0 1302.0 488.0 1321.5 473.5 1332.5 467.0 1343.0 464.5 1377.0 465.0 1389.0 463.5 1407.0 458.0 1437.5 445.0 1452.5 440.5 1462.5 439.0 1475.0 440.0 1486.0 444.5 1491.5 448.5 1515.5 472.5 1533.0 481.5 1550.0 487.0 1557.5 488.0 1569.5 487.0 1604.0 475.0 1615.5 476.0 1635.5 484.0 1645.5 486.5 1658.5 487.0 1675.0 483.0 1689.0 476.0 1699.0 467.5 1702.0 462.0 1704.5 452.5 1705.0 443.5 1701.0 419.0 1701.0 406.0 1703.0 399.5 1714.0 377.0 1716.0 357.5 1719.0 348.5 1725.0 342.0 1733.0 337.0 1768.5 323.5zM1129.0 389.5 1128.5 392.5 1125.0 396.0 1118.5 399.0 1114.5 398.5 1114.5 397.0 1122.0 390.5 1125.5 389.0zM1248.0 318.5 1249.0 324.5 1244.5 336.0 1239.0 344.0 1227.5 354.5 1217.0 360.0 1200.5 364.5 1188.5 365.0 1184.0 363.5 1182.0 361.5 1182.0 357.0 1191.5 342.5 1200.5 333.0 1214.0 322.5 1223.5 317.5 1233.5 314.5 1243.5 315.0z" fill="#bcdc00" fill-rule="evenodd"/>
<path d="M1768.5 225.0 1758.0 212.0 1744.0 201.5 1731.5 196.0 1716.5 194.5 1698.5 197.0 1665.5 204.0 1635.5 205.5 1625.0 207.5 1545.5 240.5 1523.0 247.0 1512.5 247.0 1504.5 245.0 1493.5 238.5 1485.0 230.0 1477.5 217.0 1474.5 201.0 1475.5 186.5 1478.5 179.0 1484.0 171.5 1492.5 163.5 1505.0 155.0 1518.0 149.0 1546.5 140.5 1562.5 131.5 1592.5 101.5 1610.5 85.5 1618.5 74.0 1622.0 66.5 1625.0 55.0 1625.0 42.5 1623.5 35.5 1619.0 25.0 1615.0 19.0 1609.0 12.5 1599.0 5.0 1551.5 5.0 1516.5 27.5 1490.5 46.0 1451.5 65.0 1437.0 70.5 1404.5 78.5 1365.0 95.0 1331.5 100.0 1294.0 113.5 1268.0 119.0 1250.5 120.0 1238.5 117.5 1228.0 110.5 1207.5 88.5 1188.5 75.5 1172.5 69.0 1157.0 69.0 1145.5 73.5 1130.0 86.0 1124.0 89.0 1113.5 91.0 1084.0 93.0 1066.5 97.5 1055.0 104.0 1045.5 114.0 1039.0 129.0 1037.5 139.5 1038.0 151.5 1043.5 172.0 1059.0 203.5 1063.5 217.0 1065.5 269.5 1064.0 275.5 1059.5 282.5 1054.0 287.5 1047.5 291.5 1038.0 295.0 1026.5 296.0 1000.5 290.0 980.5 290.0 963.5 295.0 951.0 304.5 945.0 313.0 940.0 325.5 940.0 421.5 946.5 426.5 956.5 431.0 968.0 433.0 977.0 432.5 1012.5 421.0 1045.0 413.5 1085.5 401.5 1101.5 394.0 1132.0 373.0 1159.5 361.5 1172.0 352.0 1197.5 327.5 1213.0 316.5 1231.0 308.5 1238.0 307.0 1248.5 307.0 1254.5 309.0 1258.5 312.5 1259.5 315.0 1259.0 321.5 1248.0 342.5 1243.5 348.5 1233.5 358.0 1221.5 365.0 1206.5 370.5 1176.5 377.0 1162.0 381.5 1152.5 387.0 1130.0 404.0 1085.5 422.5 1073.0 430.5 1064.0 440.0 1056.0 453.5 1052.5 463.5 1051.0 471.5 1051.5 487.0 1054.5 497.0 1060.0 507.0 1069.0 516.5 1079.0 522.5 1093.0 526.0 1112.5 526.5 1120.5 532.5 1186.5 532.5 1206.0 524.0 1240.0 513.0 1263.0 502.5 1298.0 480.0 1318.5 464.0 1328.5 458.5 1338.5 456.0 1349.5 456.0 1365.5 458.0 1381.5 458.0 1391.0 456.5 1409.5 450.5 1442.0 436.0 1460.0 431.5 1474.0 432.0 1487.5 437.0 1494.5 442.0 1517.0 465.0 1531.0 473.0 1548.5 479.5 1560.0 481.5 1569.5 481.0 1582.0 477.5 1596.5 471.5 1606.5 470.5 1619.0 473.5 1641.0 483.0 1650.0 484.5 1664.0 483.5 1673.5 480.5 1688.5 471.5 1696.0 463.0 1699.5 454.5 1700.5 436.5 1696.5 415.5 1696.5 406.5 1706.0 377.5 1706.0 349.5 1708.0 343.5 1714.5 336.0 1726.5 329.0 1768.5 313.5z" fill="#a8d800" fill-rule="evenodd"/>
<path d="M1768.5 228.5 1763.0 220.5 1749.0 208.0 1734.5 201.0 1720.0 199.0 1704.0 201.0 1667.0 209.5 1628.0 214.0 1541.5 248.5 1519.5 254.5 1506.0 254.5 1493.5 251.0 1483.0 244.5 1472.5 233.5 1466.5 223.0 1465.0 218.0 1464.0 196.5 1466.5 184.0 1474.0 172.0 1486.5 160.5 1503.0 149.5 1519.0 142.0 1544.0 134.5 1559.5 126.0 1584.0 103.0 1601.0 89.5 1608.5 82.0 1614.5 73.5 1621.0 56.0 1621.5 45.0 1619.5 35.0 1615.5 26.0 1610.5 19.0 1604.5 13.0 1592.0 5.0 1558.5 5.0 1528.5 23.0 1494.0 47.0 1481.0 54.5 1449.0 69.5 1431.5 76.0 1404.0 84.0 1374.5 97.5 1359.0 102.0 1333.0 104.5 1296.0 117.0 1271.5 122.5 1247.0 124.5 1235.0 122.0 1224.5 115.5 1199.5 90.0 1184.5 78.0 1170.5 72.0 1157.5 72.0 1144.5 78.0 1133.0 89.0 1128.0 92.0 1118.0 94.5 1092.0 95.5 1072.0 99.0 1058.5 105.5 1048.0 116.5 1044.5 123.5 1042.0 133.0 1042.0 149.0 1049.0 174.5 1065.0 205.0 1068.5 215.5 1070.0 228.0 1069.0 240.5 1070.0 270.0 1069.0 275.0 1065.5 281.5 1059.5 287.5 1053.0 292.0 1040.0 297.5 1024.0 299.0 1001.0 294.0 978.5 294.0 971.0 295.5 961.5 299.5 951.0 308.5 945.0 319.0 940.0 340.5 940.0 419.5 948.0 425.5 959.0 430.0 965.0 431.0 977.5 430.5 1089.5 394.0 1108.5 383.5 1133.0 364.5 1157.0 353.0 1166.5 347.0 1193.5 324.0 1212.0 311.5 1231.5 303.0 1241.0 301.0 1254.0 301.0 1265.5 305.5 1269.0 309.5 1269.5 315.0 1265.5 324.0 1253.0 345.0 1245.5 355.0 1239.0 361.0 1229.0 367.5 1215.5 373.5 1165.5 389.0 1154.0 395.0 1135.0 407.5 1085.5 429.0 1073.5 436.5 1066.0 444.0 1060.0 453.0 1055.5 464.0 1054.0 471.0 1054.0 484.5 1057.0 495.5 1063.0 506.0 1071.0 514.0 1080.5 519.5 1093.0 522.5 1114.5 522.5 1120.0 526.0 1126.0 532.5 1163.5 532.5 1202.0 516.5 1230.5 508.0 1250.0 500.5 1266.5 491.5 1295.5 472.0 1311.0 460.0 1326.5 451.5 1341.5 448.5 1369.5 451.5 1380.0 451.5 1393.0 449.5 1410.5 443.5 1443.5 428.0 1460.5 424.0 1476.5 425.0 1490.0 430.5 1497.0 435.5 1520.0 458.5 1536.0 467.5 1549.5 472.5 1558.0 474.5 1568.0 475.0 1577.0 473.5 1597.5 466.5 1606.0 466.5 1617.0 469.5 1641.0 480.5 1649.0 482.0 1661.5 481.5 1670.0 479.0 1683.0 471.5 1691.5 462.5 1696.0 452.0 1697.0 438.5 1692.5 414.5 1692.5 405.0 1699.0 378.0 1696.5 346.5 1699.5 338.0 1706.5 330.5 1714.5 325.5 1729.5 319.0 1758.5 309.0 1768.5 303.0z" fill="#8cd200" fill-rule="evenodd"/>
<path d="M1768.5 233.0 1759.0 219.0 1748.0 210.5 1735.0 205.0 1721.0 203.5 1699.0 207.0 1665.5 215.5 1629.5 221.0 1537.0 256.5 1513.5 262.5 1499.0 263.0 1483.5 259.5 1470.0 251.0 1456.0 237.0 1449.0 226.5 1448.0 217.5 1456.0 185.5 1462.5 174.5 1475.5 162.0 1505.0 142.5 1519.0 136.0 1543.5 128.0 1555.5 121.5 1581.0 99.5 1602.5 83.0 1611.5 71.5 1614.5 65.5 1617.5 54.5 1617.5 42.5 1615.0 33.0 1609.0 22.5 1601.0 14.5 1591.0 8.5 1579.5 5.0 1570.5 5.0 1560.0 8.0 1528.5 26.5 1496.5 48.5 1481.0 57.5 1444.0 75.0 1405.5 88.5 1374.5 103.0 1356.0 108.0 1331.0 109.5 1294.0 121.5 1264.5 127.5 1239.5 128.5 1231.0 126.5 1222.5 122.0 1210.0 112.0 1201.5 103.5 1191.5 90.5 1181.5 81.0 1170.5 75.5 1158.0 75.0 1147.0 80.0 1134.5 93.0 1128.0 96.5 1115.0 98.5 1090.5 99.0 1075.0 101.5 1060.5 108.0 1051.0 118.0 1046.0 131.0 1046.0 149.0 1054.0 176.0 1069.0 202.0 1073.5 214.5 1075.0 231.0 1073.5 243.0 1074.0 273.0 1073.0 276.5 1069.5 282.5 1060.0 291.0 1047.0 298.0 1039.5 300.5 1023.0 302.0 998.5 297.5 978.0 297.5 970.5 299.0 961.0 303.0 952.5 310.5 946.5 322.0 944.0 340.0 940.0 350.0 940.0 417.5 949.5 424.5 958.0 428.0 968.0 429.5 975.5 429.0 1036.0 408.0 1063.5 397.0 1090.5 389.0 1104.5 381.5 1134.0 357.0 1164.5 341.0 1193.0 318.5 1208.5 308.5 1222.5 301.5 1232.5 298.0 1245.5 295.5 1255.0 295.5 1263.5 297.0 1273.5 301.5 1278.0 306.0 1279.5 312.5 1277.0 318.0 1265.0 334.0 1254.5 352.5 1243.0 365.0 1235.5 370.0 1218.5 378.0 1165.0 396.0 1131.5 414.5 1097.5 428.0 1077.0 439.0 1066.5 449.0 1060.0 460.0 1056.5 473.5 1057.0 486.0 1060.0 495.5 1065.5 504.5 1071.5 510.5 1080.5 516.0 1091.5 519.0 1114.5 518.0 1120.0 520.5 1132.5 529.5 1135.5 530.5 1146.0 529.5 1198.5 509.0 1228.0 500.5 1245.5 494.0 1268.0 481.5 1308.0 454.5 1326.0 445.5 1339.0 442.5 1352.0 442.5 1374.5 445.0 1391.5 443.0 1409.5 437.0 1444.0 420.5 1459.5 417.0 1476.5 418.0 1492.0 424.0 1504.5 433.5 1524.0 452.5 1538.0 460.5 1552.5 466.0 1561.0 468.0 1571.5 468.5 1592.0 463.0 1604.0 462.5 1617.0 466.5 1642.5 478.5 1647.5 479.5 1661.5 479.0 1670.5 476.0 1680.0 470.0 1688.5 460.5 1693.0 448.5 1693.0 434.0 1688.5 413.5 1688.5 401.5 1691.5 384.0 1691.0 373.0 1687.0 356.5 1687.0 344.5 1689.0 337.5 1692.0 332.5 1697.5 327.0 1705.0 322.0 1717.5 316.0 1753.5 302.5 1760.0 299.0 1764.0 295.0 1767.0 288.5 1768.5 278.5z" fill="#68cc00" fill-rule="evenodd"/>
<path d="M1768.5 238.0 1761.5 225.0 1750.5 215.0 1734.5 208.5 1721.0 208.0 1703.5 211.0 1667.0 221.0 1629.0 228.5 1528.0 266.0 1507.5 271.0 1489.5 272.0 1478.5 270.0 1470.0 266.5 1443.0 246.5 1426.0 236.0 1418.5 229.5 1415.5 223.5 1418.0 216.5 1436.0 203.0 1441.5 195.0 1449.0 179.5 1463.5 164.5 1475.5 155.5 1502.5 138.5 1517.5 131.0 1540.0 123.0 1552.5 116.5 1579.5 95.0 1598.0 82.0 1606.0 73.5 1611.5 63.5 1613.5 57.0 1614.0 43.0 1613.0 38.0 1605.5 23.5 1597.5 16.0 1585.5 10.0 1571.5 8.5 1561.0 11.0 1526.0 31.5 1498.0 50.5 1475.0 63.5 1446.0 77.5 1408.5 92.0 1371.5 109.5 1356.5 113.5 1331.0 114.0 1295.5 125.0 1266.5 131.0 1249.5 133.0 1238.0 133.0 1224.5 130.0 1213.5 124.0 1199.5 114.0 1193.5 107.5 1183.5 89.0 1177.0 82.5 1167.5 78.0 1158.0 78.0 1150.0 81.5 1137.0 96.0 1130.0 100.0 1124.0 101.5 1094.5 102.0 1078.0 104.0 1064.0 109.5 1054.5 118.5 1051.0 125.5 1049.0 134.5 1049.0 142.5 1051.5 156.0 1058.5 176.5 1076.0 205.5 1079.0 217.0 1079.5 236.0 1077.5 247.5 1078.5 272.0 1077.0 278.0 1073.0 284.0 1065.0 291.0 1051.0 299.0 1041.5 302.5 1032.5 304.5 1019.0 304.5 1003.5 301.5 981.5 300.5 970.5 302.0 958.5 308.0 953.0 314.0 950.0 319.5 947.5 329.5 946.0 345.0 940.0 357.5 940.0 415.0 945.5 420.0 955.5 425.5 964.0 427.5 976.0 427.0 993.5 421.0 1062.5 393.0 1090.5 385.0 1106.0 376.0 1131.5 352.5 1160.5 337.0 1187.5 317.0 1205.5 305.5 1221.5 297.5 1234.5 293.0 1245.0 291.0 1259.5 291.0 1270.5 293.5 1282.5 300.0 1288.0 307.5 1288.0 312.5 1284.0 319.5 1272.0 332.0 1259.0 355.5 1250.5 366.0 1242.5 372.0 1228.0 379.5 1171.0 399.5 1136.5 417.0 1096.5 433.0 1080.0 441.5 1068.0 452.0 1062.5 461.0 1059.0 474.5 1060.0 487.5 1062.0 493.5 1067.5 502.5 1075.0 509.5 1082.5 513.5 1093.5 516.0 1116.5 514.0 1133.5 522.0 1145.0 521.0 1193.0 502.5 1224.0 493.5 1246.5 485.0 1304.0 450.5 1325.5 440.5 1344.5 436.5 1367.0 438.0 1388.5 436.5 1410.0 429.5 1439.5 415.0 1457.0 410.5 1471.5 410.5 1490.5 416.0 1504.5 425.0 1522.5 442.0 1530.5 448.0 1539.5 453.0 1556.0 459.5 1564.5 461.5 1574.5 462.0 1592.0 458.5 1600.5 458.5 1616.5 463.5 1643.5 476.5 1649.0 477.5 1662.0 476.5 1672.5 472.0 1682.0 464.0 1688.0 454.0 1690.0 446.0 1689.5 433.0 1684.0 410.0 1683.5 384.5 1674.5 357.5 1675.0 347.5 1678.5 336.5 1682.5 330.0 1694.0 320.0 1717.0 309.0 1748.0 297.0 1759.0 289.5 1762.5 283.0 1768.5 261.0z" fill="#3cc800" fill-rule="evenodd"/>
<path d="M1767.0 240.5 1761.0 227.5 1751.0 218.0 1738.0 212.5 1723.0 212.0 1697.5 217.5 1666.0 227.0 1631.5 235.0 1520.5 275.0 1501.5 279.5 1484.5 280.5 1472.5 278.5 1461.5 274.0 1409.5 239.5 1399.0 230.5 1396.0 224.5 1396.0 221.0 1399.5 214.0 1409.5 205.0 1426.5 194.5 1443.0 174.5 1455.0 164.0 1479.0 147.5 1506.0 131.5 1538.5 117.5 1551.5 110.5 1594.5 80.0 1602.0 73.0 1608.0 63.0 1610.0 56.5 1610.0 40.0 1606.5 31.0 1602.0 24.5 1593.0 17.0 1584.0 13.0 1570.0 12.0 1562.0 14.0 1476.5 65.5 1446.5 80.5 1410.0 96.0 1371.0 115.0 1353.5 119.5 1330.5 118.5 1304.5 126.5 1264.5 135.0 1246.5 137.0 1229.0 136.5 1218.0 133.5 1206.5 128.0 1193.5 120.0 1187.0 113.5 1183.0 105.0 1181.0 95.0 1177.5 88.5 1173.5 84.5 1166.5 81.0 1158.0 81.0 1151.5 84.0 1143.5 94.5 1137.5 100.5 1132.0 103.5 1126.0 105.0 1100.5 105.0 1079.0 107.0 1066.5 111.5 1057.0 120.5 1052.5 134.0 1053.0 145.0 1057.0 162.0 1063.5 178.0 1078.5 199.5 1083.5 214.0 1084.5 233.0 1081.5 249.0 1082.5 266.5 1081.5 278.0 1078.0 283.5 1068.5 292.0 1053.5 300.5 1041.5 305.0 1032.5 307.0 1020.5 307.5 999.5 304.5 976.0 304.0 968.5 305.5 960.0 310.0 954.5 316.0 950.5 326.5 949.0 346.0 940.0 364.0 940.0 412.5 947.5 419.5 955.0 423.5 966.0 426.0 977.0 425.0 1003.0 415.0 1057.0 391.0 1090.0 381.5 1105.0 372.5 1126.0 351.0 1132.0 346.5 1159.5 331.5 1203.0 302.5 1215.5 296.0 1232.0 289.5 1246.5 286.5 1260.5 286.5 1276.5 290.5 1287.0 296.0 1294.5 303.5 1296.0 311.0 1292.0 319.0 1274.5 336.0 1260.0 364.5 1251.0 373.0 1238.0 380.5 1215.0 390.0 1169.0 406.0 1139.0 420.5 1097.0 437.0 1075.5 448.5 1070.0 454.0 1064.5 463.0 1061.5 474.0 1061.5 481.5 1064.0 491.5 1068.5 499.5 1075.0 506.0 1080.5 509.5 1095.0 513.0 1111.0 510.0 1119.0 510.0 1131.0 514.0 1143.5 513.0 1191.5 495.0 1240.0 479.5 1301.0 446.5 1322.5 437.0 1335.5 433.0 1347.5 431.0 1375.5 431.0 1388.0 429.0 1409.5 422.0 1438.0 408.5 1457.5 404.0 1476.0 405.0 1493.0 410.5 1505.0 417.5 1534.0 441.0 1558.5 452.5 1572.0 455.5 1600.5 455.0 1614.5 460.0 1642.5 474.0 1651.0 475.5 1660.5 474.5 1672.5 469.0 1681.0 460.5 1686.0 450.0 1687.0 438.0 1674.5 389.5 1670.5 382.0 1656.5 365.5 1654.0 360.0 1655.0 352.0 1670.5 329.5 1682.5 318.5 1698.5 310.0 1739.5 293.5 1752.5 286.5 1758.0 280.5 1766.0 261.0 1767.5 254.0zM1286.0 154.5 1284.0 159.5 1279.5 163.5 1271.5 167.5 1264.0 169.5 1255.5 170.0 1247.5 168.5 1241.0 165.0 1238.5 161.5 1239.0 158.0 1243.5 154.0 1256.5 150.0 1264.5 149.0 1278.5 149.5 1283.0 151.0z" fill="#10c800" fill-rule="evenodd"/>
<path d="M1763.0 243.0 1758.5 232.0 1751.5 225.0 1742.0 220.5 1730.0 220.0 1623.5 255.0 1525.5 289.5 1499.5 296.0 1481.5 297.5 1466.5 296.0 1450.5 291.0 1435.5 282.5 1410.5 263.5 1399.0 257.5 1365.5 244.5 1353.0 234.5 1350.0 228.0 1352.0 220.0 1360.0 211.0 1375.5 199.5 1455.5 149.0 1499.5 123.5 1548.0 97.5 1593.5 69.5 1601.0 58.0 1602.5 51.0 1602.0 42.5 1600.5 37.5 1595.5 29.5 1589.0 24.0 1582.5 21.0 1570.5 20.0 1560.0 23.5 1467.5 77.0 1383.5 122.0 1365.5 130.5 1347.0 136.0 1339.0 135.0 1331.5 129.5 1311.5 134.5 1321.0 136.0 1326.5 140.0 1325.0 146.0 1319.0 152.5 1297.0 168.0 1280.0 176.0 1265.0 180.0 1251.5 180.5 1244.5 179.5 1228.0 173.5 1221.0 169.0 1215.0 163.0 1213.0 158.0 1215.0 152.5 1224.0 146.0 1211.5 145.0 1198.5 142.0 1188.0 138.0 1177.5 131.5 1172.0 125.5 1168.5 117.0 1169.0 93.5 1165.5 89.0 1159.5 88.0 1154.5 91.5 1146.5 104.5 1140.0 110.5 1131.0 114.0 1100.0 113.0 1082.5 114.5 1072.5 117.0 1065.0 122.5 1061.5 129.5 1061.0 138.5 1067.5 165.5 1073.5 177.0 1091.0 197.0 1095.0 207.5 1096.0 234.5 1090.5 253.0 1090.5 260.0 1094.0 272.0 1093.0 278.5 1084.5 288.5 1074.0 296.0 1059.0 304.0 1042.0 310.5 1020.0 314.0 972.5 311.5 963.5 315.0 959.0 320.0 957.0 325.5 957.0 344.5 955.5 351.5 952.0 359.0 940.0 376.5 940.0 405.5 947.5 414.5 958.5 420.5 972.5 421.5 983.5 418.0 1013.5 404.0 1034.0 392.0 1051.5 383.5 1065.5 378.5 1085.5 374.5 1095.0 370.5 1105.0 361.5 1114.0 349.5 1129.0 336.0 1197.0 295.5 1220.5 284.0 1234.5 279.0 1249.5 276.0 1261.5 276.0 1276.5 279.0 1296.0 287.5 1306.0 294.5 1311.0 300.0 1313.5 305.0 1313.5 311.0 1309.5 318.5 1300.5 327.5 1288.5 336.0 1282.5 342.5 1279.5 350.0 1277.5 367.5 1273.5 374.5 1262.5 383.0 1239.0 394.0 1085.5 451.0 1078.5 455.0 1073.0 460.5 1069.5 466.5 1067.5 473.0 1067.5 482.5 1072.5 494.5 1076.0 498.5 1083.5 503.5 1093.5 506.0 1100.5 505.5 1119.0 499.5 1138.5 495.5 1227.0 464.5 1302.0 434.5 1345.0 419.5 1381.0 410.5 1435.5 392.5 1457.5 389.5 1476.0 391.0 1498.0 397.5 1514.0 405.0 1543.5 422.5 1568.0 435.0 1598.5 446.0 1643.0 469.0 1656.0 470.0 1664.0 467.5 1670.0 463.5 1674.5 458.5 1678.0 452.0 1679.5 438.5 1674.5 425.0 1666.0 415.5 1651.5 404.0 1605.0 376.5 1588.0 365.0 1580.0 357.0 1578.5 353.5 1579.0 349.5 1583.5 344.0 1595.5 337.0 1635.0 321.0 1669.0 305.0 1747.5 274.5 1757.0 266.5 1761.5 258.5 1763.0 253.0z" fill="#00c828" fill-rule="evenodd"/>
<path d="M1762.0 243.0 1758.0 233.0 1750.5 225.5 1740.5 221.5 1730.5 221.5 1529.0 291.5 1498.0 299.0 1473.0 300.0 1457.5 297.0 1439.0 289.0 1406.0 265.0 1395.0 260.0 1365.0 250.0 1352.0 242.5 1344.5 235.5 1341.5 229.5 1341.5 224.5 1343.5 220.0 1350.0 212.5 1361.5 203.5 1436.5 157.5 1591.5 69.0 1597.0 62.5 1600.0 55.5 1601.0 49.5 1600.0 41.0 1595.5 32.0 1590.5 27.0 1580.0 22.0 1568.0 22.0 1559.5 25.5 1481.5 70.5 1390.0 121.0 1360.0 135.5 1338.0 141.5 1320.0 156.0 1302.0 167.5 1283.5 176.5 1266.0 181.5 1246.0 181.5 1233.5 178.0 1223.0 173.0 1211.0 163.0 1208.5 158.0 1209.5 152.5 1215.0 147.5 1195.5 144.0 1187.0 141.0 1176.5 135.0 1168.5 126.0 1166.0 119.0 1165.5 107.0 1167.5 96.5 1167.0 93.5 1164.0 90.0 1159.5 89.5 1156.0 92.0 1148.0 105.5 1142.5 111.0 1136.5 114.5 1131.0 116.0 1101.0 114.5 1080.0 116.5 1070.0 120.0 1065.0 125.0 1063.0 129.5 1062.5 137.0 1069.5 166.0 1076.5 178.0 1093.0 195.5 1097.5 207.0 1098.5 233.0 1097.0 241.5 1092.0 255.0 1092.5 261.0 1096.5 271.5 1096.0 277.5 1088.0 287.5 1077.0 295.5 1060.5 304.5 1040.5 312.0 1024.5 315.0 986.0 314.5 971.5 313.0 963.0 317.0 960.5 320.0 958.0 326.5 958.5 344.5 956.0 354.5 940.0 379.0 940.0 403.5 943.5 409.0 949.5 415.0 958.0 419.5 968.0 421.0 983.5 417.0 1007.5 406.0 1032.5 391.0 1050.5 382.0 1064.5 377.0 1085.5 373.0 1092.0 370.5 1103.0 361.5 1112.5 348.5 1126.5 335.5 1157.5 316.0 1199.0 292.5 1218.5 283.0 1233.0 277.5 1249.5 274.0 1262.5 274.0 1277.0 277.0 1295.0 284.5 1308.0 293.0 1313.5 298.5 1317.0 305.0 1317.0 310.5 1312.5 319.0 1305.0 326.5 1289.0 338.0 1284.0 344.0 1281.5 351.5 1281.5 368.0 1278.5 374.5 1268.5 383.0 1247.0 393.5 1081.5 454.5 1074.5 460.5 1070.5 467.0 1068.5 474.0 1068.5 481.5 1070.0 487.5 1074.0 494.5 1078.5 499.0 1085.5 503.0 1091.5 504.5 1101.5 504.0 1150.5 488.0 1352.0 415.0 1425.0 392.0 1453.0 387.0 1476.5 388.5 1502.5 396.5 1526.5 408.0 1555.5 424.0 1611.5 451.0 1640.5 467.0 1647.5 469.0 1656.0 469.0 1667.5 464.0 1673.0 458.5 1676.0 453.5 1678.0 446.5 1678.0 438.5 1676.0 431.5 1672.5 425.5 1666.5 419.5 1651.0 409.5 1582.5 369.5 1571.0 359.5 1568.0 354.0 1568.5 348.5 1576.5 340.0 1594.0 331.0 1749.0 271.5 1756.5 265.0 1760.5 258.0 1762.5 249.0z" fill="#00ca48" fill-rule="evenodd"/>
<path d="M1761.0 243.5 1757.5 234.5 1750.5 227.0 1741.0 223.0 1730.5 223.0 1591.5 273.0 1531.0 293.5 1497.5 301.5 1473.0 302.5 1458.5 300.0 1444.5 295.0 1430.5 287.0 1406.5 268.5 1394.5 263.0 1363.5 253.5 1348.0 245.0 1338.0 236.0 1334.5 228.0 1336.0 221.5 1344.0 212.0 1359.5 200.5 1409.5 170.5 1589.5 68.5 1594.0 64.0 1597.5 58.0 1599.0 52.5 1599.0 44.0 1598.0 40.0 1593.0 31.5 1587.0 26.5 1579.5 23.5 1568.5 23.5 1560.0 27.0 1389.5 123.5 1362.5 137.0 1339.0 146.0 1318.0 160.5 1292.5 174.5 1279.0 180.0 1264.5 183.5 1251.5 184.0 1242.0 182.5 1221.5 174.5 1212.0 168.0 1205.5 161.0 1204.0 158.0 1204.0 153.0 1207.0 148.5 1187.5 144.0 1178.0 139.5 1172.0 135.0 1167.0 129.0 1163.5 119.0 1163.5 106.5 1165.5 94.0 1163.5 91.5 1160.0 91.0 1157.0 93.5 1147.5 109.0 1138.5 116.0 1131.5 118.0 1103.5 116.0 1078.5 118.5 1070.5 121.5 1066.5 125.5 1064.5 130.0 1064.5 138.5 1071.5 166.5 1077.5 176.5 1094.0 193.0 1099.5 205.0 1100.5 235.5 1094.0 254.0 1094.5 261.0 1100.0 272.0 1100.0 275.5 1097.5 280.5 1087.0 290.5 1073.0 299.5 1054.5 308.5 1038.0 314.0 1023.0 316.5 986.0 316.5 977.5 314.5 971.5 314.5 964.5 317.5 961.5 321.0 959.5 326.0 960.0 345.5 958.0 354.0 953.0 363.0 944.5 373.5 940.0 382.5 940.0 400.5 944.5 408.5 950.0 414.0 956.0 417.5 963.0 419.5 972.0 419.5 978.0 418.0 1008.5 404.0 1031.0 390.0 1048.5 381.0 1063.5 375.5 1085.0 371.5 1092.5 368.5 1100.5 362.0 1111.0 347.5 1125.5 334.0 1154.5 315.5 1193.5 293.5 1215.5 282.5 1233.5 275.5 1250.5 272.0 1262.0 272.0 1283.0 277.0 1300.0 285.0 1310.5 292.0 1317.0 298.5 1320.5 306.0 1319.5 313.0 1316.0 318.5 1307.0 327.5 1289.5 340.0 1286.5 343.5 1283.5 353.0 1285.0 371.0 1282.5 375.5 1270.5 385.0 1250.5 394.5 1081.0 456.5 1073.0 465.0 1070.5 471.0 1069.5 478.5 1071.5 487.5 1074.5 493.0 1080.0 498.5 1085.5 501.5 1090.5 503.0 1101.5 502.5 1374.0 405.0 1419.5 390.5 1448.5 385.0 1475.0 386.0 1489.5 389.5 1508.5 396.5 1550.5 417.0 1642.5 466.5 1654.5 468.0 1660.5 466.5 1668.0 462.0 1672.5 457.0 1675.5 451.0 1676.5 438.5 1674.5 432.0 1671.0 426.5 1663.0 420.0 1614.0 393.5 1578.5 372.0 1569.5 365.0 1563.5 358.5 1561.5 354.5 1561.5 348.5 1563.5 345.0 1571.5 338.0 1597.0 325.5 1748.5 270.0 1756.0 263.5 1759.0 258.5 1761.0 252.0zM1168.0 229.5 1168.0 236.0 1160.5 244.0 1141.5 254.0 1136.0 255.5 1130.5 254.5 1130.5 251.5 1133.5 246.5 1150.0 229.0 1156.0 226.0 1161.0 225.5 1165.5 227.0z" fill="#00ce72" fill-rule="evenodd"/>
<path d="M1758.5 243.5 1755.0 235.0 1747.5 228.0 1738.5 225.0 1731.0 225.5 1538.0 294.0 1504.5 303.0 1491.5 305.0 1476.0 305.5 1461.0 303.5 1442.0 297.0 1430.5 290.5 1403.0 269.5 1358.5 254.5 1341.5 244.5 1332.5 236.0 1329.5 230.0 1329.5 225.0 1333.0 218.0 1343.0 208.5 1359.0 197.5 1410.5 167.0 1588.0 66.5 1595.0 57.5 1596.5 52.5 1596.5 44.0 1591.5 33.5 1587.0 29.5 1581.0 26.5 1571.5 25.5 1561.5 29.0 1379.0 132.0 1341.5 149.5 1301.5 173.5 1282.5 182.0 1266.0 186.5 1249.0 187.0 1232.0 183.0 1217.0 176.0 1206.0 168.5 1200.0 162.5 1196.5 155.5 1197.0 149.5 1179.5 144.0 1169.0 137.0 1164.0 131.0 1160.5 122.0 1160.0 111.0 1163.0 95.5 1161.0 93.5 1150.5 110.5 1144.0 117.0 1138.5 120.0 1133.0 121.5 1126.0 121.5 1112.5 119.0 1101.0 119.0 1078.0 121.5 1071.5 124.0 1068.5 127.0 1067.0 130.5 1067.0 136.5 1072.0 160.0 1075.0 168.0 1078.5 173.5 1095.5 189.5 1099.0 194.5 1103.0 204.0 1104.0 235.5 1101.5 245.0 1097.0 254.0 1097.5 259.5 1100.5 263.5 1105.5 266.0 1110.5 265.5 1119.0 251.5 1145.0 225.5 1152.5 220.5 1157.5 219.0 1164.5 219.0 1173.5 223.0 1178.0 230.5 1176.0 237.0 1167.0 246.0 1152.0 255.5 1130.0 266.0 1113.0 271.0 1099.5 285.0 1090.5 292.0 1071.5 303.5 1053.0 312.0 1041.0 316.0 1026.0 319.0 1001.5 319.0 987.5 321.0 976.5 317.5 970.0 317.5 964.0 321.5 962.0 327.0 963.0 347.0 961.5 354.0 958.5 360.5 947.0 374.5 943.5 381.0 941.5 389.5 942.0 397.0 946.5 407.0 953.5 413.5 962.5 417.0 972.0 417.0 977.5 415.5 1007.0 402.0 1030.0 387.5 1048.5 378.0 1064.0 372.5 1086.0 368.5 1092.5 365.5 1099.5 359.0 1110.0 344.0 1125.0 331.0 1149.5 315.5 1198.5 288.0 1218.0 278.5 1235.5 272.0 1247.0 269.5 1261.0 269.0 1273.5 271.0 1284.5 274.5 1303.5 283.5 1316.0 292.0 1322.0 298.0 1325.5 305.0 1325.0 311.5 1321.0 318.5 1310.0 329.0 1289.0 344.5 1286.5 354.0 1291.0 367.5 1291.0 372.0 1289.5 375.0 1278.0 384.5 1251.5 397.0 1082.5 458.5 1075.0 466.5 1072.5 473.0 1072.0 479.0 1073.5 486.0 1076.5 491.5 1081.5 496.5 1087.0 499.5 1099.5 500.5 1403.5 392.5 1429.0 385.5 1452.5 382.0 1464.0 382.0 1479.0 384.0 1508.0 393.5 1555.0 416.5 1644.0 464.5 1654.5 465.5 1664.0 462.0 1669.5 457.0 1672.5 452.0 1674.0 447.0 1674.0 438.5 1669.5 428.5 1664.0 423.5 1606.0 392.0 1573.0 372.0 1558.5 359.5 1555.0 352.5 1555.5 348.0 1557.5 344.5 1565.5 337.5 1591.0 325.0 1747.0 268.0 1754.0 262.0 1757.0 257.0 1758.5 252.0zM1360.5 343.5 1360.5 345.0 1357.0 348.5 1350.5 352.0 1340.5 355.0 1335.5 355.0 1334.0 353.5 1337.0 349.0 1347.5 343.0 1357.5 341.5z" fill="#02d4a0" fill-rule="evenodd"/>
<path d="M1756.0 244.0 1753.0 236.5 1746.0 230.0 1738.0 227.5 1731.0 228.0 1538.5 296.5 1503.0 306.0 1488.5 308.0 1472.0 308.0 1459.5 306.0 1444.0 301.0 1427.0 291.5 1404.0 273.0 1393.0 268.0 1374.0 263.5 1358.0 257.5 1340.0 247.5 1327.0 236.0 1324.0 229.5 1324.5 224.0 1327.0 219.0 1336.5 209.5 1353.0 198.0 1398.5 171.0 1586.5 64.5 1592.5 57.0 1594.0 52.5 1594.0 44.5 1589.0 34.5 1584.0 30.5 1579.0 28.5 1572.0 28.0 1563.0 31.0 1405.5 120.5 1342.5 153.0 1305.0 175.0 1285.5 184.0 1266.5 189.5 1254.5 190.5 1237.5 188.0 1216.5 179.5 1200.5 169.0 1191.0 158.5 1189.0 150.5 1172.0 143.5 1162.0 134.5 1158.5 128.0 1157.0 122.0 1157.5 105.5 1151.5 114.5 1146.0 120.0 1137.0 124.5 1127.0 125.0 1113.5 122.0 1100.0 122.0 1087.5 124.5 1076.0 125.0 1070.5 128.5 1069.5 134.0 1075.0 160.5 1078.5 169.0 1084.5 176.0 1099.0 188.5 1106.5 203.0 1107.5 236.5 1105.5 244.0 1100.0 254.5 1100.0 257.0 1102.0 259.5 1106.5 259.0 1111.5 252.0 1144.5 220.0 1155.0 214.5 1167.5 214.5 1176.0 218.0 1180.0 221.0 1184.0 226.0 1185.0 229.5 1182.5 237.5 1174.0 246.0 1157.5 257.0 1116.5 277.5 1081.0 301.5 1054.0 314.5 1032.0 321.0 1002.5 322.0 991.0 325.5 984.5 325.5 973.0 320.0 967.0 322.0 965.0 325.5 966.0 334.5 965.0 353.5 962.0 361.0 950.0 375.0 945.5 383.0 944.0 389.5 944.5 397.0 946.5 402.5 950.5 408.0 958.0 413.0 963.0 414.5 971.5 414.5 981.5 411.0 1003.5 401.0 1031.5 383.5 1048.5 375.0 1064.5 369.5 1083.0 366.5 1091.0 363.5 1096.5 358.5 1108.5 341.0 1119.5 331.5 1147.0 314.0 1193.0 288.0 1216.0 276.5 1232.5 270.0 1247.5 266.5 1260.0 266.0 1277.0 269.0 1288.5 273.0 1305.0 281.0 1322.0 292.5 1326.5 297.0 1330.0 303.0 1330.5 310.0 1325.5 319.0 1311.0 332.0 1292.5 344.5 1290.0 348.5 1290.5 357.0 1294.5 362.5 1302.5 368.0 1301.5 371.5 1287.5 383.0 1261.0 396.0 1085.0 460.0 1077.0 468.0 1074.5 478.5 1076.0 485.5 1078.5 490.0 1087.5 497.0 1091.0 498.0 1101.0 497.5 1374.5 399.5 1420.0 385.0 1449.5 379.5 1467.5 379.5 1478.0 381.0 1504.0 389.0 1548.0 410.0 1644.5 462.0 1654.5 463.0 1664.5 458.5 1670.5 450.0 1671.5 438.5 1667.5 430.0 1662.5 425.5 1602.5 393.0 1565.5 370.5 1552.0 358.5 1549.0 352.5 1549.5 347.0 1556.0 339.5 1561.0 336.0 1585.0 324.5 1743.0 267.0 1748.5 264.0 1754.0 257.5 1756.0 252.0zM1377.5 339.0 1377.5 342.5 1373.0 348.0 1366.0 352.5 1352.5 358.5 1319.5 368.0 1310.5 368.5 1307.0 366.5 1308.5 362.0 1319.0 352.0 1330.5 344.0 1346.5 336.0 1357.5 333.0 1368.0 333.0 1374.5 335.5z" fill="#06dac8" fill-rule="evenodd"/>
<path d="M1753.0 244.0 1750.0 237.5 1745.0 233.0 1738.0 230.5 1731.5 231.0 1536.0 300.5 1501.5 309.5 1485.5 311.5 1474.0 311.5 1455.5 308.5 1439.0 302.5 1424.5 294.0 1400.5 274.5 1392.0 271.0 1372.0 266.5 1357.5 261.0 1332.5 247.0 1321.0 236.5 1317.5 228.0 1319.5 221.0 1328.5 211.0 1344.5 199.5 1398.5 167.5 1586.0 61.0 1591.0 52.0 1590.0 41.5 1583.0 33.5 1578.5 31.5 1572.0 31.0 1563.0 34.5 1409.0 122.0 1348.5 154.0 1308.5 177.0 1286.0 187.5 1267.5 193.0 1251.0 194.0 1240.5 192.5 1225.0 187.5 1205.5 177.5 1193.0 168.5 1186.0 161.5 1181.0 151.5 1169.5 146.5 1158.5 137.0 1154.0 128.0 1153.0 119.5 1145.0 126.0 1137.0 129.0 1127.0 129.0 1109.5 125.0 1100.0 125.5 1082.0 129.5 1074.5 129.0 1073.0 130.5 1079.5 164.0 1085.0 172.0 1101.5 185.5 1107.5 194.0 1110.5 201.0 1111.5 207.0 1110.5 222.5 1112.0 228.0 1112.0 236.5 1108.0 248.5 1126.0 233.0 1142.0 216.0 1148.5 211.5 1155.5 209.0 1168.5 209.5 1182.0 215.5 1191.0 224.5 1192.0 227.0 1191.5 234.0 1189.0 238.5 1181.5 246.0 1165.5 257.0 1118.0 282.5 1082.5 304.5 1056.5 317.0 1031.5 324.5 1003.5 325.5 988.0 332.5 982.0 331.5 973.5 324.0 969.5 324.0 968.0 326.5 970.0 340.5 968.5 356.0 963.0 366.5 950.5 380.0 947.5 387.0 947.5 396.5 950.0 402.5 954.5 407.5 963.5 411.5 973.0 411.0 1004.5 397.0 1031.0 380.0 1045.0 373.0 1063.0 366.5 1084.0 363.0 1090.0 360.5 1093.5 357.0 1102.5 342.0 1116.5 329.5 1143.5 312.5 1194.0 284.0 1219.5 271.5 1236.0 265.5 1248.0 263.0 1260.0 262.5 1282.0 267.0 1308.5 279.0 1325.5 290.0 1331.0 295.0 1336.0 302.5 1336.0 311.5 1330.0 320.5 1312.0 335.5 1294.5 347.0 1293.0 352.5 1296.0 357.0 1301.5 357.5 1330.5 338.0 1345.0 331.0 1359.5 327.0 1372.0 327.0 1383.5 331.0 1389.5 337.5 1389.5 342.0 1388.0 344.5 1379.0 352.0 1356.0 362.5 1308.5 377.5 1276.5 393.0 1252.0 403.0 1089.0 461.5 1081.0 467.5 1077.5 477.5 1079.5 486.0 1087.0 493.5 1091.5 495.0 1099.0 495.0 1387.0 392.0 1425.0 380.5 1453.0 376.0 1465.0 376.0 1479.5 378.0 1508.5 387.5 1554.5 410.0 1645.0 459.0 1654.0 460.0 1661.5 457.0 1667.5 449.5 1668.5 439.0 1665.5 432.5 1660.0 427.5 1593.5 391.5 1557.5 369.5 1544.0 357.0 1541.5 351.0 1542.0 347.0 1544.0 343.5 1552.0 336.5 1577.5 324.0 1742.5 264.0 1750.5 257.5 1753.0 251.5z" fill="#0cdcf0" fill-rule="evenodd"/>
<path d="M1748.5 244.5 1743.0 237.0 1737.5 235.0 1732.0 235.5 1538.5 304.5 1503.5 314.0 1490.5 316.0 1474.0 316.5 1459.0 314.5 1439.0 308.0 1421.0 298.0 1400.0 279.5 1390.5 275.5 1372.5 272.0 1356.5 266.0 1327.0 250.0 1313.0 238.5 1308.5 230.5 1309.0 223.5 1313.5 216.5 1328.5 204.0 1392.0 166.0 1582.0 58.5 1586.5 51.5 1586.0 43.5 1581.0 37.5 1572.5 35.5 1565.0 38.5 1318.0 177.5 1293.0 190.0 1271.5 197.5 1257.0 199.5 1243.5 198.5 1226.0 193.5 1211.5 187.0 1197.5 179.0 1181.5 167.0 1174.0 159.0 1170.5 153.0 1162.0 148.5 1154.0 141.5 1148.5 131.5 1140.5 135.0 1130.5 135.5 1113.0 130.5 1104.5 130.0 1086.0 136.0 1080.5 136.5 1082.0 152.5 1085.5 165.5 1106.5 182.5 1116.5 197.0 1118.0 205.5 1116.0 219.5 1120.5 229.5 1127.5 223.5 1137.5 211.5 1144.5 206.0 1154.5 202.0 1165.0 202.0 1178.0 206.0 1194.5 216.0 1201.5 224.5 1202.5 227.5 1201.5 234.5 1191.0 246.5 1172.0 259.5 1089.0 306.5 1063.0 319.5 1034.5 329.0 1017.5 331.0 1004.0 331.0 1000.5 334.5 998.0 339.5 994.5 343.0 991.0 344.5 984.5 344.0 975.0 337.0 975.5 351.0 973.5 360.0 967.5 370.0 954.0 383.5 951.5 391.0 952.0 396.0 954.5 401.0 958.0 404.5 964.0 407.0 971.5 406.5 1000.5 394.0 1026.5 377.0 1046.5 367.0 1066.5 360.5 1086.0 357.5 1089.5 354.0 1094.5 342.0 1104.5 332.0 1126.0 317.5 1170.0 292.0 1214.5 268.5 1230.5 262.0 1246.5 258.0 1262.5 257.5 1285.5 263.0 1313.5 276.0 1335.0 290.0 1342.0 297.0 1345.0 302.0 1345.5 309.5 1340.5 318.5 1328.0 330.0 1298.5 350.5 1322.5 335.5 1339.5 326.5 1351.5 322.0 1366.5 319.5 1383.5 322.0 1396.5 328.5 1403.5 336.5 1404.0 340.0 1401.5 345.5 1390.5 354.0 1362.5 366.5 1307.0 385.5 1242.5 411.5 1090.0 466.0 1084.5 470.5 1082.5 474.5 1083.0 482.5 1087.5 488.5 1092.0 490.5 1100.0 490.0 1404.5 381.5 1430.0 374.5 1454.5 371.0 1479.5 373.0 1507.5 382.0 1549.0 402.0 1644.0 453.5 1649.0 455.5 1653.5 455.5 1660.0 452.5 1664.0 446.0 1664.0 439.5 1660.0 433.0 1584.0 391.5 1547.0 369.0 1540.5 364.0 1532.0 354.5 1530.5 350.0 1531.5 345.0 1540.5 336.0 1564.5 324.0 1611.5 306.0 1740.5 260.0 1747.0 254.5 1748.5 251.0z" fill="#14d8fc" fill-rule="evenodd"/>
<path d="M1745.5 245.0 1740.5 239.0 1737.5 238.0 1732.5 238.5 1536.0 308.5 1496.0 318.5 1469.5 319.5 1451.5 316.0 1437.5 311.0 1425.5 305.0 1414.5 297.5 1396.5 281.0 1389.5 278.5 1372.5 275.5 1352.0 267.5 1322.0 251.0 1313.0 244.5 1305.5 237.0 1302.0 229.5 1302.0 226.0 1304.0 221.0 1313.0 211.0 1327.5 200.5 1375.5 172.0 1579.5 56.5 1583.0 52.5 1583.5 45.5 1578.5 39.5 1572.5 38.5 1314.5 183.0 1292.0 194.0 1269.5 201.5 1252.5 203.0 1238.5 201.0 1227.0 197.5 1208.0 189.0 1192.5 180.0 1180.0 171.0 1168.0 159.5 1164.5 154.0 1155.5 148.5 1146.5 138.0 1140.5 139.5 1130.5 139.5 1111.0 133.5 1103.5 133.5 1085.0 141.5 1085.5 151.5 1089.0 164.0 1103.5 174.5 1118.5 190.5 1122.0 198.5 1122.5 208.0 1126.5 205.5 1130.0 205.5 1133.5 210.0 1144.5 201.0 1154.5 197.5 1163.0 197.5 1172.0 199.5 1189.5 207.5 1204.5 219.0 1209.0 227.5 1207.5 235.5 1198.0 246.0 1177.0 260.5 1093.0 308.0 1068.5 320.5 1051.5 327.5 1036.0 332.0 1023.5 334.0 1006.5 334.0 1006.0 335.0 1008.5 339.5 1007.0 344.5 1002.5 348.5 994.5 352.0 986.5 352.0 979.5 349.0 978.0 359.0 974.5 367.0 957.5 384.0 955.0 389.0 955.0 395.5 957.0 399.5 960.5 402.5 964.5 404.0 970.5 403.5 1000.5 390.5 1023.5 375.0 1043.0 365.0 1065.0 357.5 1085.0 354.5 1085.5 348.5 1087.5 343.5 1100.5 330.5 1120.0 317.5 1197.5 273.5 1226.5 260.0 1244.0 255.0 1262.0 254.0 1276.0 256.5 1295.5 263.5 1318.5 275.0 1339.5 288.5 1347.0 295.5 1351.5 303.5 1350.5 312.0 1345.0 320.0 1364.5 315.5 1376.5 316.0 1389.5 319.5 1400.5 325.0 1409.0 332.0 1412.0 337.0 1412.0 342.0 1410.5 345.0 1405.0 350.5 1398.0 355.0 1372.5 366.5 1308.5 389.0 1244.5 414.0 1089.0 470.0 1085.5 475.0 1086.0 482.0 1090.0 486.5 1098.0 487.5 1394.5 381.5 1429.0 371.5 1450.5 368.0 1476.0 369.0 1489.0 372.0 1506.0 378.0 1555.5 402.0 1649.5 452.5 1653.5 452.5 1657.0 451.0 1661.0 445.5 1661.0 440.0 1657.0 434.5 1575.0 390.0 1539.0 368.0 1531.5 362.0 1525.0 354.5 1523.5 351.0 1524.0 345.0 1531.0 337.0 1535.5 334.0 1557.0 323.5 1604.0 305.5 1738.5 257.5 1744.5 253.0z" fill="#12a8fc" fill-rule="evenodd"/>
<path d="M1743.5 245.5 1740.0 241.0 1734.5 240.0 1538.0 310.0 1500.0 320.0 1473.5 322.0 1456.0 319.5 1435.5 312.5 1416.5 302.0 1396.0 283.0 1371.5 277.5 1348.0 268.0 1320.0 252.5 1302.5 238.5 1298.0 230.5 1299.0 222.5 1301.5 218.5 1314.0 207.0 1333.0 194.5 1384.5 164.5 1577.5 55.5 1581.0 52.0 1581.5 46.0 1578.0 41.5 1572.5 40.5 1318.0 183.5 1290.5 197.0 1271.0 203.5 1262.0 205.0 1241.5 204.0 1226.0 199.5 1210.0 192.5 1189.0 180.5 1176.5 171.5 1165.5 161.5 1159.5 154.0 1152.5 149.5 1145.5 141.5 1139.5 142.5 1130.0 142.0 1109.5 135.5 1102.5 136.0 1097.5 138.0 1087.5 145.0 1088.0 151.5 1091.5 162.5 1106.0 173.5 1122.0 189.5 1125.0 198.5 1134.5 197.0 1139.5 201.0 1150.0 195.5 1161.0 194.5 1178.0 199.0 1194.5 207.5 1208.0 218.0 1213.0 226.0 1213.5 229.0 1212.0 235.0 1201.0 247.0 1180.5 261.0 1081.5 316.5 1060.0 326.5 1043.0 332.5 1029.5 335.5 1016.0 336.5 1016.0 342.0 1014.0 345.5 1008.5 350.5 1001.0 354.5 994.0 356.5 987.0 356.5 982.0 354.5 979.5 363.0 975.5 370.0 958.0 387.0 957.0 395.0 961.0 400.5 965.0 402.0 970.0 401.5 999.0 389.0 1021.0 374.0 1041.0 363.5 1060.5 356.5 1080.0 353.0 1081.0 346.5 1085.0 340.5 1100.5 327.5 1128.5 310.0 1183.0 279.0 1214.0 263.0 1234.5 255.0 1248.5 252.0 1265.0 252.0 1280.5 255.5 1298.5 262.5 1317.5 272.0 1339.0 285.0 1351.5 296.0 1355.0 302.0 1355.5 309.0 1353.0 315.0 1363.0 313.0 1380.5 314.0 1395.5 319.0 1405.5 324.5 1415.5 333.5 1417.5 337.5 1417.5 342.0 1415.0 346.5 1403.0 355.5 1368.5 370.5 1090.5 471.5 1087.5 475.5 1087.5 480.5 1090.5 484.5 1092.5 485.5 1100.5 484.5 1405.0 376.0 1433.0 368.5 1456.0 365.5 1470.0 366.0 1482.0 368.0 1512.5 378.5 1556.0 400.0 1648.5 450.0 1653.0 450.5 1655.5 449.5 1659.0 445.0 1658.5 439.0 1655.5 436.0 1586.0 398.5 1542.0 373.0 1530.0 364.5 1522.5 357.5 1518.5 350.5 1519.0 345.0 1521.0 341.5 1530.0 334.0 1558.5 320.5 1739.5 255.0 1743.0 251.5z" fill="#0c70fa" fill-rule="evenodd"/>
<path d="M1741.5 246.0 1738.5 242.5 1735.0 242.0 1595.0 292.5 1527.0 315.5 1495.0 323.0 1470.5 324.0 1453.0 321.0 1434.5 314.5 1414.5 303.5 1394.5 284.5 1372.0 280.0 1351.5 272.0 1316.5 253.0 1304.5 244.5 1297.5 237.5 1294.0 231.0 1294.5 223.5 1299.5 216.0 1312.0 205.5 1373.5 168.5 1577.0 53.5 1579.5 50.5 1579.5 46.5 1576.5 43.0 1573.0 42.5 1321.5 184.0 1290.0 199.5 1270.0 206.0 1250.0 207.5 1240.0 206.0 1225.0 201.5 1201.5 190.5 1180.5 177.5 1166.0 166.0 1155.5 154.5 1149.0 150.0 1144.0 144.5 1129.5 144.5 1111.0 138.0 1104.0 138.0 1099.0 140.0 1090.0 148.5 1095.0 163.0 1106.0 170.5 1115.5 180.0 1122.0 184.0 1125.5 188.0 1127.0 192.0 1137.0 191.0 1143.0 195.0 1152.5 192.0 1163.5 192.0 1174.5 195.0 1188.0 201.0 1205.0 211.5 1214.0 220.0 1217.5 227.0 1217.5 231.0 1215.0 237.0 1206.5 246.0 1188.0 259.0 1087.0 316.0 1053.0 331.5 1036.0 336.5 1023.0 338.5 1022.0 343.0 1016.0 350.0 1003.5 357.5 993.0 360.5 983.5 359.5 980.0 368.0 976.5 373.0 960.5 387.0 959.0 390.0 959.0 394.5 963.5 399.5 970.5 399.0 998.5 387.0 1018.5 373.0 1038.0 362.5 1059.5 354.5 1074.5 351.5 1076.5 345.5 1084.5 336.5 1105.5 321.5 1172.5 282.5 1215.5 260.0 1241.0 251.0 1250.0 249.5 1263.0 249.5 1276.5 252.0 1293.5 258.0 1315.5 268.5 1338.0 281.5 1349.0 289.5 1356.0 296.5 1359.5 303.5 1359.0 311.0 1375.0 310.5 1394.0 315.5 1407.0 322.0 1416.0 328.5 1421.5 335.0 1423.0 339.5 1421.5 345.0 1417.0 350.0 1408.0 356.0 1380.0 368.5 1094.0 472.0 1089.5 476.0 1089.5 480.0 1092.0 483.0 1097.0 483.5 1403.0 374.5 1430.0 367.0 1452.5 363.5 1466.5 363.5 1483.0 366.0 1512.0 376.0 1556.5 398.0 1650.0 448.5 1653.0 448.5 1657.0 444.5 1657.0 441.0 1655.0 438.0 1566.5 390.0 1527.5 366.0 1515.0 353.5 1513.5 349.5 1514.5 343.5 1524.5 334.0 1545.5 323.5 1589.5 306.5 1736.5 254.0 1741.0 251.0z" fill="#0a38f2" fill-rule="evenodd"/>
<path d="M966.2 392.8L1574.2 48.6M1108 148.6L1651.7 443M1095.3 478.2L1736.2 248.1" stroke="#000a66" stroke-width="3.2" stroke-linecap="round"/>
<path d="M1000.1 64.8L1049.9 73.7M1031.0 73.7L1122.9 67.2M1048.2 67.7L1148.7 119.2M940.0 156.1L1216.0 77.1M948.6 171.6L1024.2 133.0M1148.7 64.8L1208.8 64.8M1180.5 64.3L1216.0 9.3M940.0 97.7L964.9 76.8M946.0 56.5L950.3 50.5M950.3 50.5L954.6 56.5M992.4 134.7L1014.7 101.2M952.9 138.1L953.7 183.6M947.7 178.5L954.6 187.1M973.5 159.6L1043.0 267.9M953.7 187.1L976.9 231.7M958.9 230.0L967.5 226.6M967.5 226.6L976.1 231.7M958.0 231.7L985.5 267.9M995.0 222.3L1000.1 200.8M1039.6 106.3L1126.3 224.0M1061.9 94.3L1086.0 116.6M1074.8 131.2L1116.9 178.5M1144.4 90.0L1132.4 176.8M1161.6 95.2L1118.6 218.0M1087.7 164.7L1216.0 147.6M1149.5 187.1L1103.2 255.8M1159.8 231.7L1159.8 267.9M1049.9 199.9L1068.8 203.4M1120.3 202.5L1150.4 202.5M1032.7 84.0L1040.5 89.2M1084.3 87.4L1100.6 84.9M1124.6 91.7L1131.5 96.0M996.7 125.2L1005.3 128.7M1216.0 77.1L1325.9 37.6M1317.3 49.7L1332.8 5.0M1222.9 72.0L1228.9 45.4M1233.2 77.1L1283.0 105.5M1267.5 67.7L1286.4 67.7M1288.1 87.4L1326.8 74.6M1301.9 35.9L1313.9 35.9M1350.8 25.6L1408.4 5.0M1483.9 5.0L1483.9 30.8M1415.2 54.8L1484.8 37.6M1447.9 44.5L1469.3 75.4M1469.3 75.4L1473.6 39.4M1439.3 60.0L1439.3 72.0M1216.0 147.6L1330.2 132.1M1246.9 144.1L1257.2 147.6M1379.2 92.6L1396.3 142.4M1406.6 103.8L1420.4 103.8M1439.3 104.6L1461.6 86.6M1346.5 133.8L1353.4 175.0M1368.9 143.3L1379.2 138.1M1430.7 123.5L1413.5 169.9M1394.6 176.8L1413.5 168.2M1334.5 195.6L1355.1 190.5M1365.4 218.0L1391.2 224.8M1413.5 166.4L1473.6 245.5M1480.5 180.2L1492.0 187.1M1478.8 219.7L1492.0 226.6M1416.9 235.1L1396.3 267.9M1427.3 237.7L1437.6 242.9M1446.1 240.3L1468.5 241.2M1454.7 248.9L1422.1 267.9M1216.0 154.4L1221.2 204.2M1470.2 106.3L1492.0 121.8M1339.7 259.2L1339.7 267.9M1519.5 10.2L1593.4 11.9M1593.4 10.2L1541.8 48.0M1682.7 5.0L1687.9 22.2M1686.2 5.0L1689.6 18.7M1701.6 20.5L1705.9 35.1M1669.0 43.7L1732.6 60.0M1713.7 46.2L1725.7 44.5M1741.2 32.5L1734.3 77.2M1729.1 56.6L1739.4 48.0M1663.8 56.6L1650.1 145.9M1646.7 108.1L1660.4 87.5M1693.1 85.8L1766.9 84.0M1769.0 44.5L1724.0 166.5M1754.9 96.1L1744.6 118.4M1693.1 122.7L1724.0 117.6M1703.4 125.3L1765.2 195.7M1581.4 151.9L1631.2 185.4M1630.3 151.9L1643.2 174.3M1526.4 163.1L1540.1 163.1M1543.6 164.0L1570.2 169.1M1732.6 164.0L1748.0 164.8M1492.0 187.2L1516.1 205.2M1524.6 190.6L1561.6 203.5M1530.7 211.2L1554.7 216.4M1577.1 218.9L1596.8 205.2M1702.5 190.6L1721.4 214.6M1492.0 226.7L1523.8 244.7M1608.0 218.1L1607.1 235.3M1620.9 228.4L1615.7 268.1M1690.5 204.3L1692.2 268.1M1565.9 255.9L1690.5 217.2M1739.4 226.7L1744.6 219.8M1765.2 209.5L1769.0 216.4M1495.4 252.4L1505.7 249.9M1519.5 268.1L1528.1 262.8M983.1 268.0L1000.3 283.5M1043.4 268.0L1048.6 276.6M1102.0 269.7L1112.4 273.2M962.4 300.8L1019.3 295.6M940.0 305.9L959.0 316.3M955.5 311.1L955.5 347.3M995.2 327.5L1017.6 329.2M940.0 338.7L996.9 333.5M971.0 326.6L990.0 376.6M1007.2 334.4L1084.8 354.2M940.0 390.4L988.3 371.4M1022.7 352.5L1029.6 342.1M1064.1 318.0L1062.4 345.6M991.7 407.6L1012.4 374.9M1122.7 321.4L1158.9 324.0M1105.5 338.7L1108.9 342.1M1164.1 292.1L1186.5 280.1M1195.1 311.1L1216.0 314.5M1143.4 362.0L1153.8 375.7M1034.0 386.9L1100.3 431.8M1067.6 402.5L1216.0 388.7M1188.2 386.9L1197.7 414.5M1164.1 419.7L1171.0 411.1M1188.2 418.8L1191.7 425.7M1129.6 427.5L1136.5 432.6M940.0 438.7L955.5 416.3M940.0 423.2L1015.0 440.4M976.2 428.3L1002.9 428.3M966.7 440.4L982.2 474.0M970.2 474.0L971.0 493.0M950.3 493.0L990.0 512.8M977.1 495.6L957.2 528.3M1028.8 467.1L1034.0 505.0M1038.3 484.3L1008.1 520.6M1136.5 443.8L1145.1 457.6M1144.3 440.4L1146.0 480.0M1136.5 492.1L1155.5 499.9M1170.1 498.1L1154.6 531.9M1095.2 511.1L1101.2 523.1M1112.4 514.5L1119.3 530.0M1122.7 528.3L1201.2 512.8M1202.0 492.1L1216.0 497.3M1205.5 469.7L1216.0 466.2M1069.3 526.6L1076.2 531.9M1329.8 283.5L1336.7 274.9M1336.7 274.9L1334.9 324.9M1388.4 288.7L1372.9 323.2M1426.3 268.0L1298.7 350.7M1388.4 290.4L1402.2 268.0M1272.9 303.3L1296.2 307.6M1216.0 315.4L1235.0 319.7M1235.0 319.7L1272.9 313.7M1343.6 294.7L1353.9 294.7M1224.6 362.0L1279.8 367.1M1297.0 365.4L1388.4 386.9M1300.5 357.6L1336.7 386.9M1216.0 386.9L1256.5 384.4M1221.2 377.5L1233.2 380.9M1336.7 386.9L1310.8 416.3M1453.9 312.0L1490.1 318.0M1453.9 312.0L1472.9 309.4M1474.6 297.3L1492.0 287.0M1359.1 405.9L1357.4 419.7M1399.6 397.3L1431.5 429.2M1431.5 429.2L1456.5 399.9M1415.1 395.6L1415.1 436.1M1323.7 436.1L1324.3 447.3M1407.4 444.7L1397.0 456.8M1250.5 427.5L1221.2 486.1M1216.0 464.5L1263.4 489.5M1216.0 464.5L1256.5 450.7M1334.9 486.9L1376.3 471.4M1304.8 493.8L1313.4 502.5M1371.2 490.4L1370.3 531.9M1216.0 497.3L1326.3 531.9M1224.6 505.9L1238.4 511.1M1421.1 503.3L1429.8 502.5M1492.0 499.0L1474.6 520.6M1439.2 519.7L1429.8 531.9M1319.4 355.1L1326.3 355.1M1492.0 285.2L1517.9 268.0M1529.9 284.4L1573.1 280.9M1538.6 274.9L1536.8 296.5M1543.7 278.3L1588.6 268.0M1604.1 273.2L1701.6 331.8M1612.7 268.0L1605.8 304.2M1695.5 268.0L1696.4 299.0M1676.6 328.4L1743.8 304.2M1743.8 304.2L1745.5 300.8M1743.0 293.9L1769.0 301.6M1516.1 358.6L1623.1 339.6M1555.8 302.5L1578.2 347.3M1567.9 304.2L1611.0 352.5M1565.3 374.9L1624.8 364.6M1555.8 366.3L1561.0 393.9M1593.8 374.9L1598.9 378.4M1530.8 399.1L1562.7 418.1M1568.8 414.6L1543.7 445.7M1623.1 411.2L1631.7 426.7M1733.5 327.5L1732.6 404.3M1744.7 328.4L1750.7 356.0M1708.5 350.8L1758.5 368.9M1769.0 362.9L1711.0 424.1M1684.3 446.5L1733.5 385.3M1690.4 401.7L1717.9 406.0M1674.8 391.3L1677.4 400.8M1686.0 385.3L1689.5 381.8M1769.0 407.7L1716.2 483.6M1707.6 465.5L1637.7 500.0M1512.7 463.8L1525.6 468.9M1605.8 479.3L1585.1 516.4M1577.4 495.7L1585.1 516.4M1593.8 506.0L1602.4 532.1M1674.0 507.7L1674.0 532.1M1492.0 493.9L1498.0 516.4M1762.8 510.3L1769.0 509.5M1702.4 443.1L1706.7 442.2" stroke="#222218" stroke-width="1.8" fill="none" stroke-linecap="round"/>
</g>
<rect x="940" y="5" width="829.2" height="527" fill="none" stroke="#333" stroke-width="2.2"/>
</svg>
<svg class="c" width="1772" height="1531" viewBox="0 0 1772 1531" style="position:absolute;left:0;top:0">
<defs><clipPath id="pc"><rect x="454.5" y="727" width="1001.0" height="631"/></clipPath></defs>
<path d="M597.5 727V1358M740.5 727V1358M883.5 727V1358M1026.5 727V1358M1169.5 727V1358M1312.5 727V1358M454.5 832.1H1455.5M454.5 937.3H1455.5M454.5 1042.5H1455.5M454.5 1147.6H1455.5M454.5 1252.8H1455.5" stroke="#888" stroke-width="1.3" fill="none"/>
<g clip-path="url(#pc)">
<path d="M539.2 737.8h7v7h-7zM582.3 743.8h7v7h-7zM607.7 748.2h7v7h-7zM625.5 750.2h7v7h-7zM639.3 751.0h7v7h-7zM650.8 750.2h7v7h-7zM660.0 749.6h7v7h-7zM668.1 751.0h7v7h-7zM670.3 751.2h7v7h-7zM672.4 751.3h7v7h-7zM674.6 751.5h7v7h-7zM676.7 751.6h7v7h-7zM678.8 751.7h7v7h-7zM680.9 751.9h7v7h-7zM682.9 752.0h7v7h-7zM685.0 752.1h7v7h-7zM687.0 752.2h7v7h-7zM689.1 752.4h7v7h-7zM691.1 752.5h7v7h-7zM693.2 752.5h7v7h-7zM695.3 752.6h7v7h-7zM697.3 752.6h7v7h-7zM699.4 752.6h7v7h-7zM701.4 752.7h7v7h-7zM703.5 752.7h7v7h-7zM705.5 752.8h7v7h-7zM707.6 752.8h7v7h-7zM709.6 752.9h7v7h-7zM711.7 753.0h7v7h-7zM713.8 753.1h7v7h-7zM715.8 753.2h7v7h-7zM717.9 753.3h7v7h-7zM719.9 753.3h7v7h-7zM722.0 753.4h7v7h-7zM724.0 753.5h7v7h-7zM726.1 753.6h7v7h-7zM728.1 753.7h7v7h-7zM730.2 753.8h7v7h-7zM732.3 753.8h7v7h-7zM734.3 753.9h7v7h-7zM736.4 753.9h7v7h-7zM738.4 753.9h7v7h-7zM740.5 753.9h7v7h-7zM742.5 753.9h7v7h-7zM744.6 753.9h7v7h-7zM746.6 753.9h7v7h-7zM748.7 753.9h7v7h-7zM750.8 754.0h7v7h-7zM752.8 754.1h7v7h-7zM754.9 754.2h7v7h-7zM756.9 754.2h7v7h-7zM759.0 754.3h7v7h-7zM761.0 754.4h7v7h-7zM763.1 754.5h7v7h-7zM765.1 754.6h7v7h-7zM767.2 754.7h7v7h-7zM769.3 754.7h7v7h-7zM771.3 754.8h7v7h-7zM773.4 754.9h7v7h-7zM775.4 755.0h7v7h-7zM777.5 755.1h7v7h-7zM779.5 755.1h7v7h-7zM781.6 755.2h7v7h-7zM783.6 755.3h7v7h-7zM785.7 755.4h7v7h-7zM787.8 755.5h7v7h-7zM789.8 755.6h7v7h-7zM791.9 755.6h7v7h-7zM793.9 755.7h7v7h-7zM796.0 755.8h7v7h-7zM798.0 755.9h7v7h-7zM800.1 756.0h7v7h-7zM802.2 756.1h7v7h-7zM804.2 756.1h7v7h-7zM806.3 756.2h7v7h-7zM808.3 756.3h7v7h-7zM810.4 756.4h7v7h-7zM812.4 756.5h7v7h-7zM814.5 756.5h7v7h-7zM816.5 756.6h7v7h-7zM818.6 756.7h7v7h-7zM820.7 756.8h7v7h-7zM822.7 756.9h7v7h-7zM824.8 757.0h7v7h-7zM826.8 757.2h7v7h-7zM828.9 757.3h7v7h-7zM830.9 757.4h7v7h-7zM833.0 757.5h7v7h-7zM835.0 757.7h7v7h-7zM837.1 757.9h7v7h-7zM839.2 758.2h7v7h-7zM841.2 758.5h7v7h-7zM843.3 758.8h7v7h-7zM845.3 759.1h7v7h-7zM847.4 759.4h7v7h-7zM849.4 759.7h7v7h-7zM851.5 760.2h7v7h-7zM853.5 760.7h7v7h-7zM855.6 761.2h7v7h-7zM857.7 761.6h7v7h-7zM859.7 762.1h7v7h-7zM861.8 762.6h7v7h-7zM863.8 763.1h7v7h-7zM865.9 763.9h7v7h-7zM867.9 764.6h7v7h-7zM870.0 765.3h7v7h-7zM872.0 766.1h7v7h-7zM874.1 766.8h7v7h-7zM876.2 767.6h7v7h-7zM878.2 768.3h7v7h-7zM880.1 769.3h7v7h-7zM882.1 770.2h7v7h-7zM884.0 771.2h7v7h-7zM885.9 772.1h7v7h-7zM887.8 773.1h7v7h-7zM889.7 774.1h7v7h-7zM891.5 775.2h7v7h-7zM893.2 776.4h7v7h-7zM894.9 777.5h7v7h-7zM896.6 778.7h7v7h-7zM898.4 779.8h7v7h-7zM899.8 781.3h7v7h-7zM901.2 782.7h7v7h-7zM902.7 784.1h7v7h-7zM904.1 785.6h7v7h-7zM905.6 787.0h7v7h-7zM907.0 788.5h7v7h-7zM908.4 790.3h7v7h-7zM909.9 792.1h7v7h-7zM911.3 793.8h7v7h-7zM912.8 795.6h7v7h-7zM913.9 797.4h7v7h-7zM915.1 799.1h7v7h-7zM916.2 800.8h7v7h-7zM917.4 802.6h7v7h-7zM918.5 804.3h7v7h-7zM919.6 806.4h7v7h-7zM920.7 808.6h7v7h-7zM921.7 810.8h7v7h-7zM922.8 812.9h7v7h-7zM923.5 815.1h7v7h-7zM924.3 817.2h7v7h-7zM925.0 819.4h7v7h-7zM925.7 821.6h7v7h-7zM926.4 823.7h7v7h-7zM927.1 825.9h7v7h-7zM927.9 828.0h7v7h-7zM928.6 830.2h7v7h-7zM929.2 832.3h7v7h-7zM929.7 834.5h7v7h-7zM930.3 836.7h7v7h-7zM930.9 838.8h7v7h-7zM931.4 841.0h7v7h-7zM931.9 843.1h7v7h-7zM932.4 845.3h7v7h-7zM932.9 847.5h7v7h-7zM934.4 847.6h7v7h-7zM935.1 857.1h7v7h-7zM936.6 866.6h7v7h-7zM937.9 878.6h7v7h-7zM939.8 896.6h7v7h-7zM941.4 916.5h7v7h-7zM942.6 941.8h7v7h-7zM943.9 977.2h7v7h-7zM945.5 1026.8h7v7h-7zM944.3 978.0h7v7h-7zM945.7 1026.4h7v7h-7zM947.2 1075.9h7v7h-7zM951.0 1135.4h7v7h-7zM948.1 1147.3h7v7h-7zM950.1 1166.5h7v7h-7zM955.8 1184.7h7v7h-7zM961.6 1187.6h7v7h-7zM944.0 978.0h7v7h-7zM945.6 1026.4h7v7h-7zM947.1 1075.9h7v7h-7zM951.3 1135.4h7v7h-7zM948.5 1147.3h7v7h-7zM949.8 1166.5h7v7h-7zM955.2 1184.7h7v7h-7zM960.9 1187.6h7v7h-7zM950.3 1136.5h7v7h-7zM947.9 1147.6h7v7h-7zM950.3 1165.7h7v7h-7zM956.6 1185.5h7v7h-7zM961.4 1187.9h7v7h-7zM953.5 1196.5h7v7h-7zM978.8 1208.4h7v7h-7zM981.9 1210.8h7v7h-7zM989.8 1218.7h7v7h-7zM963.0 1226.6h7v7h-7zM972.4 1237.6h7v7h-7zM997.7 1228.1h7v7h-7zM1008.8 1231.3h7v7h-7zM1013.5 1266.1h7v7h-7zM1019.8 1256.6h7v7h-7zM1030.9 1259.8h7v7h-7zM1042.0 1264.5h7v7h-7zM1054.6 1267.7h7v7h-7zM1018.3 1250.3h7v7h-7zM981.9 1206.0h7v7h-7zM977.2 1210.8h7v7h-7zM985.1 1215.5h7v7h-7zM994.6 1225.0h7v7h-7zM1004.0 1229.7h7v7h-7zM1023.0 1247.1h7v7h-7zM1035.6 1256.6h7v7h-7zM1048.3 1261.3h7v7h-7zM1036.5 1264.5h7v7h-7zM1043.6 1265.7h7v7h-7zM1047.6 1266.1h7v7h-7zM1051.5 1266.5h7v7h-7zM1055.5 1266.9h7v7h-7zM1059.4 1265.7h7v7h-7zM1063.4 1264.5h7v7h-7zM1067.3 1263.3h7v7h-7zM1071.3 1261.3h7v7h-7zM1075.2 1259.4h7v7h-7zM1079.2 1257.4h7v7h-7zM1082.1 1259.8h7v7h-7zM1085.1 1262.1h7v7h-7zM1088.1 1264.5h7v7h-7zM1091.0 1266.9h7v7h-7zM1095.8 1265.7h7v7h-7zM1100.5 1264.5h7v7h-7zM1104.4 1264.9h7v7h-7zM1108.4 1265.3h7v7h-7zM1112.3 1265.7h7v7h-7zM1116.3 1263.7h7v7h-7zM1120.2 1261.7h7v7h-7zM1124.2 1259.8h7v7h-7zM1128.1 1261.3h7v7h-7zM1132.1 1262.9h7v7h-7zM1136.0 1264.5h7v7h-7zM1140.8 1264.1h7v7h-7zM1145.5 1263.7h7v7h-7zM1150.3 1263.3h7v7h-7zM1154.2 1263.7h7v7h-7zM1158.2 1264.1h7v7h-7zM1162.1 1264.5h7v7h-7zM1166.1 1264.5h7v7h-7zM1170.0 1264.5h7v7h-7zM1174.0 1264.5h7v7h-7zM1177.9 1264.5h7v7h-7zM1181.9 1264.5h7v7h-7zM1185.8 1264.5h7v7h-7zM1189.8 1264.1h7v7h-7zM1193.7 1263.7h7v7h-7zM1197.7 1263.3h7v7h-7zM1201.6 1263.7h7v7h-7zM1205.6 1264.1h7v7h-7zM1209.5 1264.5h7v7h-7zM1213.5 1264.9h7v7h-7zM1217.4 1265.3h7v7h-7zM1221.4 1265.7h7v7h-7zM1225.3 1265.9h7v7h-7zM1229.3 1266.2h7v7h-7zM1233.2 1266.4h7v7h-7zM1237.2 1266.5h7v7h-7zM1241.1 1266.7h7v7h-7zM1245.1 1266.9h7v7h-7zM1249.0 1266.7h7v7h-7zM1253.0 1266.5h7v7h-7zM1256.9 1266.4h7v7h-7zM1260.9 1266.4h7v7h-7zM1264.8 1266.4h7v7h-7zM1268.8 1266.4h7v7h-7zM1274.7 1266.4h7v7h-7zM1227.3 1276.8h7v7h-7z" fill="#000"/>
<g fill="#f00"><circle cx="629.0" cy="741.6" r="4.3"/><circle cx="642.8" cy="765.5" r="4.3"/><circle cx="653.8" cy="793.4" r="4.3"/><circle cx="663.6" cy="826.5" r="4.3"/><circle cx="671.6" cy="860.2" r="4.3"/><circle cx="679.4" cy="890.4" r="4.3"/><circle cx="685.4" cy="915.7" r="4.3"/><circle cx="691.8" cy="937.3" r="4.3"/><circle cx="696.9" cy="951.1" r="4.3"/><circle cx="702.1" cy="959.5" r="4.3"/><circle cx="706.7" cy="973.8" r="4.3"/><circle cx="711.3" cy="985.4" r="4.3"/><circle cx="715.4" cy="984.2" r="4.3"/><circle cx="720.0" cy="992.8" r="4.3"/><circle cx="722.6" cy="997.2" r="4.3"/><circle cx="725.7" cy="1002.1" r="4.3"/><circle cx="729.2" cy="1012.7" r="4.3"/><circle cx="733.5" cy="1010.1" r="4.3"/><circle cx="737.2" cy="1019.3" r="4.3"/><circle cx="711.8" cy="985.4" r="4.3"/><circle cx="714.7" cy="984.2" r="4.3"/><circle cx="718.5" cy="992.5" r="4.3"/><circle cx="722.4" cy="996.3" r="4.3"/><circle cx="725.6" cy="1002.1" r="4.3"/><circle cx="729.1" cy="1012.6" r="4.3"/><circle cx="732.9" cy="1009.7" r="4.3"/><circle cx="736.7" cy="1019.3" r="4.3"/><circle cx="740.6" cy="1030.8" r="4.3"/><circle cx="745.4" cy="1027.0" r="4.3"/><circle cx="748.3" cy="1024.5" r="4.3"/><circle cx="754.0" cy="1036.0" r="4.3"/><circle cx="761.7" cy="1041.8" r="4.3"/><circle cx="742.5" cy="1046.2" r="4.3"/><circle cx="755.9" cy="1049.1" r="4.3"/><circle cx="767.4" cy="1048.1" r="4.3"/><circle cx="750.2" cy="1060.6" r="4.3"/><circle cx="759.8" cy="1056.4" r="4.3"/><circle cx="773.2" cy="1062.1" r="4.3"/><circle cx="775.1" cy="1061.5" r="4.3"/><circle cx="763.6" cy="1069.2" r="4.3"/><circle cx="769.0" cy="1075.0" r="4.3"/><circle cx="757.9" cy="1076.9" r="4.3"/><circle cx="773.2" cy="1084.0" r="4.3"/><circle cx="780.5" cy="1083.6" r="4.3"/><circle cx="765.1" cy="1094.7" r="4.3"/><circle cx="770.3" cy="1095.5" r="4.3"/><circle cx="783.4" cy="1093.2" r="4.3"/><circle cx="801.0" cy="1090.3" r="4.3"/><circle cx="776.7" cy="1102.8" r="4.3"/><circle cx="790.5" cy="1105.7" r="4.3"/><circle cx="795.3" cy="1111.4" r="4.3"/><circle cx="785.7" cy="1114.3" r="4.3"/><circle cx="788.2" cy="1117.2" r="4.3"/><circle cx="816.4" cy="1118.1" r="4.3"/><circle cx="846.1" cy="1117.8" r="4.3"/><circle cx="792.4" cy="1129.3" r="4.3"/><circle cx="802.9" cy="1127.7" r="4.3"/><circle cx="808.7" cy="1127.7" r="4.3"/><circle cx="815.4" cy="1129.7" r="4.3"/><circle cx="826.9" cy="1128.1" r="4.3"/><circle cx="850.0" cy="1131.6" r="4.3"/><circle cx="797.2" cy="1141.2" r="4.3"/><circle cx="809.7" cy="1136.4" r="4.3"/><circle cx="840.4" cy="1147.3" r="4.3"/><circle cx="830.8" cy="1165.2" r="4.3"/><circle cx="887.4" cy="1170.0" r="4.3"/><circle cx="820.8" cy="1181.9" r="4.3"/><circle cx="889.3" cy="1183.4" r="4.3"/><circle cx="897.9" cy="1182.0" r="4.3"/><circle cx="907.5" cy="1184.9" r="4.3"/><circle cx="910.4" cy="1177.6" r="4.3"/><circle cx="942.1" cy="1108.2" r="4.3"/><circle cx="954.5" cy="1108.6" r="4.3"/><circle cx="940.1" cy="1121.0" r="4.3"/><circle cx="953.6" cy="1121.0" r="4.3"/><circle cx="956.4" cy="1133.5" r="4.3"/><circle cx="957.8" cy="1146.5" r="4.3"/><circle cx="958.4" cy="1158.4" r="4.3"/><circle cx="944.9" cy="1171.5" r="4.3"/><circle cx="938.2" cy="1177.6" r="4.3"/><circle cx="961.2" cy="1179.5" r="4.3"/><circle cx="825.0" cy="1193.9" r="4.3"/><circle cx="832.7" cy="1191.1" r="4.3"/><circle cx="839.4" cy="1193.0" r="4.3"/><circle cx="851.9" cy="1196.4" r="4.3"/><circle cx="897.5" cy="1196.4" r="4.3"/><circle cx="797.1" cy="1141.9" r="4.3"/><circle cx="840.5" cy="1147.1" r="4.3"/><circle cx="830.6" cy="1165.3" r="4.3"/><circle cx="821.1" cy="1181.9" r="4.3"/><circle cx="825.0" cy="1194.5" r="4.3"/><circle cx="832.1" cy="1190.6" r="4.3"/><circle cx="839.3" cy="1193.7" r="4.3"/><circle cx="851.9" cy="1196.9" r="4.3"/><circle cx="811.6" cy="1204.0" r="4.3"/><circle cx="828.7" cy="1209.2" r="4.3"/><circle cx="835.6" cy="1213.5" r="4.3"/><circle cx="874.0" cy="1202.1" r="4.3"/><circle cx="887.8" cy="1169.7" r="4.3"/><circle cx="889.0" cy="1183.5" r="4.3"/><circle cx="898.2" cy="1181.9" r="4.3"/><circle cx="907.7" cy="1184.6" r="4.3"/><circle cx="910.8" cy="1177.9" r="4.3"/><circle cx="896.9" cy="1196.6" r="4.3"/><circle cx="908.8" cy="1207.9" r="4.3"/><circle cx="912.7" cy="1204.8" r="4.3"/><circle cx="919.8" cy="1206.4" r="4.3"/><circle cx="934.1" cy="1217.1" r="4.3"/><circle cx="945.1" cy="1171.6" r="4.3"/><circle cx="957.8" cy="1146.3" r="4.3"/><circle cx="958.6" cy="1158.2" r="4.3"/><circle cx="938.0" cy="1177.1" r="4.3"/><circle cx="961.7" cy="1179.5" r="4.3"/><circle cx="874.8" cy="1234.5" r="4.3"/><circle cx="886.2" cy="1230.9" r="4.3"/><circle cx="881.9" cy="1243.5" r="4.3"/><circle cx="915.1" cy="1236.7" r="4.3"/><circle cx="925.4" cy="1237.7" r="4.3"/><circle cx="819.5" cy="1247.1" r="4.3"/><circle cx="913.5" cy="1268.0" r="4.3"/><circle cx="950.3" cy="1283.8" r="4.3"/><circle cx="947.5" cy="1289.8" r="4.3"/><circle cx="883.5" cy="1297.2" r="4.3"/><circle cx="945.9" cy="1349.8" r="4.3"/><circle cx="989.4" cy="1261.4" r="4.3"/><circle cx="983.8" cy="1253.8" r="4.3"/><circle cx="979.1" cy="1245.9" r="4.3"/><circle cx="968.0" cy="1207.9" r="4.3"/><circle cx="965.7" cy="1215.8" r="4.3"/><circle cx="972.8" cy="1228.5" r="4.3"/><circle cx="975.9" cy="1233.2" r="4.3"/><circle cx="979.1" cy="1234.8" r="4.3"/><circle cx="982.3" cy="1236.4" r="4.3"/><circle cx="985.4" cy="1238.0" r="4.3"/><circle cx="988.6" cy="1234.8" r="4.3"/><circle cx="993.3" cy="1242.7" r="4.3"/><circle cx="996.5" cy="1241.1" r="4.3"/><circle cx="1001.2" cy="1247.4" r="4.3"/><circle cx="1004.4" cy="1238.0" r="4.3"/><circle cx="1009.1" cy="1242.7" r="4.3"/><circle cx="1013.9" cy="1244.3" r="4.3"/><circle cx="1017.0" cy="1250.6" r="4.3"/><circle cx="1020.2" cy="1249.0" r="4.3"/><circle cx="1024.9" cy="1247.4" r="4.3"/><circle cx="1029.7" cy="1250.6" r="4.3"/><circle cx="1032.8" cy="1250.6" r="4.3"/><circle cx="1037.6" cy="1249.0" r="4.3"/><circle cx="1040.7" cy="1253.8" r="4.3"/><circle cx="1045.5" cy="1250.6" r="4.3"/><circle cx="1048.6" cy="1256.9" r="4.3"/><circle cx="1054.9" cy="1255.3" r="4.3"/><circle cx="1060.0" cy="1257.7" r="4.3"/><circle cx="991.7" cy="1226.9" r="4.3"/><circle cx="1020.2" cy="1236.4" r="4.3"/><circle cx="999.6" cy="1250.6" r="4.3"/><circle cx="1012.3" cy="1253.8" r="4.3"/><circle cx="1026.5" cy="1242.7" r="4.3"/><circle cx="1036.0" cy="1256.9" r="4.3"/><circle cx="1048.6" cy="1263.3" r="4.3"/><circle cx="1040.0" cy="1251.4" r="4.3"/><circle cx="1044.0" cy="1253.0" r="4.3"/><circle cx="1047.9" cy="1254.6" r="4.3"/><circle cx="1051.9" cy="1256.1" r="4.3"/><circle cx="1055.8" cy="1255.3" r="4.3"/><circle cx="1059.8" cy="1254.6" r="4.3"/><circle cx="1063.7" cy="1253.8" r="4.3"/><circle cx="1066.7" cy="1251.4" r="4.3"/><circle cx="1069.6" cy="1249.0" r="4.3"/><circle cx="1072.6" cy="1246.7" r="4.3"/><circle cx="1075.6" cy="1244.3" r="4.3"/><circle cx="1079.5" cy="1245.9" r="4.3"/><circle cx="1083.5" cy="1247.4" r="4.3"/><circle cx="1087.4" cy="1249.0" r="4.3"/><circle cx="1091.4" cy="1249.8" r="4.3"/><circle cx="1095.3" cy="1250.6" r="4.3"/><circle cx="1099.3" cy="1251.4" r="4.3"/><circle cx="1103.2" cy="1253.8" r="4.3"/><circle cx="1107.2" cy="1256.1" r="4.3"/><circle cx="1111.1" cy="1258.5" r="4.3"/><circle cx="1114.1" cy="1255.0" r="4.3"/><circle cx="1117.0" cy="1251.4" r="4.3"/><circle cx="1120.0" cy="1247.8" r="4.3"/><circle cx="1123.0" cy="1244.3" r="4.3"/><circle cx="1126.9" cy="1246.3" r="4.3"/><circle cx="1130.9" cy="1248.2" r="4.3"/><circle cx="1134.8" cy="1250.2" r="4.3"/><circle cx="1138.8" cy="1249.0" r="4.3"/><circle cx="1142.7" cy="1247.8" r="4.3"/><circle cx="1146.7" cy="1246.7" r="4.3"/><circle cx="1150.6" cy="1247.4" r="4.3"/><circle cx="1154.6" cy="1248.2" r="4.3"/><circle cx="1158.5" cy="1249.0" r="4.3"/><circle cx="1162.5" cy="1248.6" r="4.3"/><circle cx="1166.4" cy="1248.2" r="4.3"/><circle cx="1170.4" cy="1247.8" r="4.3"/><circle cx="1174.3" cy="1248.2" r="4.3"/><circle cx="1178.3" cy="1248.6" r="4.3"/><circle cx="1182.2" cy="1249.0" r="4.3"/><circle cx="1186.2" cy="1249.4" r="4.3"/><circle cx="1190.1" cy="1249.8" r="4.3"/><circle cx="1194.1" cy="1250.2" r="4.3"/><circle cx="1198.0" cy="1251.0" r="4.3"/><circle cx="1202.0" cy="1251.8" r="4.3"/><circle cx="1205.9" cy="1252.6" r="4.3"/><circle cx="1209.9" cy="1253.4" r="4.3"/><circle cx="1213.8" cy="1254.2" r="4.3"/><circle cx="1217.8" cy="1255.0" r="4.3"/><circle cx="1221.7" cy="1254.6" r="4.3"/><circle cx="1225.7" cy="1254.2" r="4.3"/><circle cx="1229.6" cy="1253.8" r="4.3"/><circle cx="1233.6" cy="1253.6" r="4.3"/><circle cx="1237.5" cy="1253.5" r="4.3"/><circle cx="1241.5" cy="1253.3" r="4.3"/><circle cx="1245.4" cy="1253.5" r="4.3"/><circle cx="1249.4" cy="1253.6" r="4.3"/><circle cx="1253.3" cy="1253.8" r="4.3"/><circle cx="1257.3" cy="1254.2" r="4.3"/><circle cx="1261.2" cy="1254.6" r="4.3"/><circle cx="1265.2" cy="1255.0" r="4.3"/><circle cx="1269.1" cy="1255.2" r="4.3"/><circle cx="1273.1" cy="1255.4" r="4.3"/><circle cx="1277.0" cy="1255.7" r="4.3"/><circle cx="1281.0" cy="1255.8" r="4.3"/><circle cx="1284.9" cy="1256.0" r="4.3"/><circle cx="1288.9" cy="1256.1" r="4.3"/><circle cx="1292.8" cy="1256.9" r="4.3"/><circle cx="1296.8" cy="1257.7" r="4.3"/><circle cx="1300.7" cy="1258.5" r="4.3"/><circle cx="1303.1" cy="1263.3" r="4.3"/><circle cx="1305.5" cy="1268.0" r="4.3"/><circle cx="1307.8" cy="1271.5" r="4.3"/><circle cx="1310.2" cy="1275.1" r="4.3"/><circle cx="1314.9" cy="1275.7" r="4.3"/><circle cx="1319.7" cy="1276.3" r="4.3"/><circle cx="1326.8" cy="1276.3" r="4.3"/><circle cx="1309.7" cy="1232.4" r="4.3"/><circle cx="1307.4" cy="1288.1" r="4.3"/></g>
<path d="M585.8 723.1l5.0 9h-10zM611.2 743.4l5.0 9h-10zM629.0 762.1l5.0 9h-10zM642.8 779.4l5.0 9h-10zM653.8 793.7l5.0 9h-10zM663.6 806.7l5.0 9h-10zM672.2 818.8l5.0 9h-10zM679.4 829.7l5.0 9h-10zM686.0 839.8l5.0 9h-10zM686.0 839.8l5.0 9h-10zM691.8 848.4l5.0 9h-10zM696.9 857.1l5.0 9h-10zM702.1 865.7l5.0 9h-10zM707.0 874.3l5.0 9h-10zM711.9 883.0l5.0 9h-10zM716.2 890.2l5.0 9h-10zM720.5 897.4l5.0 9h-10zM724.9 904.6l5.0 9h-10zM729.2 913.2l5.0 9h-10zM733.5 921.8l5.0 9h-10zM737.8 930.5l5.0 9h-10zM742.1 939.1l5.0 9h-10zM746.4 947.7l5.0 9h-10zM750.8 956.4l5.0 9h-10zM755.1 962.1l5.0 9h-10zM759.4 967.9l5.0 9h-10zM763.7 976.5l5.0 9h-10zM766.6 982.3l5.0 9h-10zM755.9 975.6l5.0 9h-10zM761.7 978.4l5.0 9h-10zM764.6 983.2l5.0 9h-10zM769.4 991.9l5.0 9h-10zM773.2 997.6l5.0 9h-10zM777.0 1009.1l5.0 9h-10zM779.9 1006.3l5.0 9h-10zM782.8 1011.1l5.0 9h-10zM786.6 1010.1l5.0 9h-10zM778.0 1016.8l5.0 9h-10zM787.6 1018.7l5.0 9h-10zM790.5 1029.3l5.0 9h-10zM794.3 1034.1l5.0 9h-10zM798.1 1036.0l5.0 9h-10zM802.9 1036.0l5.0 9h-10zM805.8 1034.1l5.0 9h-10zM810.6 1032.2l5.0 9h-10zM807.7 1040.8l5.0 9h-10zM798.1 1046.6l5.0 9h-10zM802.0 1047.5l5.0 9h-10zM805.8 1050.4l5.0 9h-10zM813.5 1047.5l5.0 9h-10zM817.3 1047.5l5.0 9h-10zM821.2 1047.5l5.0 9h-10zM815.4 1051.3l5.0 9h-10zM811.6 1060.9l5.0 9h-10zM819.3 1050.4l5.0 9h-10zM823.1 1071.5l5.0 9h-10zM826.9 1080.1l5.0 9h-10zM832.7 1082.0l5.0 9h-10zM836.5 1078.2l5.0 9h-10zM840.4 1078.2l5.0 9h-10zM844.2 1079.2l5.0 9h-10zM848.0 1080.1l5.0 9h-10zM854.8 1079.2l5.0 9h-10zM832.7 1089.7l5.0 9h-10zM838.4 1093.6l5.0 9h-10zM844.2 1092.6l5.0 9h-10zM850.0 1092.6l5.0 9h-10zM857.6 1092.6l5.0 9h-10zM835.6 1099.3l5.0 9h-10zM850.0 1100.3l5.0 9h-10zM857.6 1102.2l5.0 9h-10zM830.8 1111.8l5.0 9h-10zM866.3 1127.1l5.0 9h-10zM860.5 1135.8l5.0 9h-10zM864.3 1149.2l5.0 9h-10zM869.1 1158.8l5.0 9h-10zM825.0 1165.5l5.0 9h-10zM883.5 1154.0l5.0 9h-10zM894.1 1097.4l5.0 9h-10zM890.2 1117.5l5.0 9h-10zM886.4 1122.3l5.0 9h-10zM901.8 1128.1l5.0 9h-10zM907.5 1126.2l5.0 9h-10zM915.2 1111.8l5.0 9h-10zM913.3 1122.3l5.0 9h-10zM909.4 1133.9l5.0 9h-10zM917.1 1133.9l5.0 9h-10zM894.1 1139.6l5.0 9h-10zM905.6 1151.1l5.0 9h-10zM907.5 1165.5l5.0 9h-10zM917.1 1172.2l5.0 9h-10zM922.9 1172.2l5.0 9h-10zM926.7 1102.2l5.0 9h-10zM932.5 1107.0l5.0 9h-10zM936.3 1107.0l5.0 9h-10zM924.8 1116.6l5.0 9h-10zM930.5 1116.6l5.0 9h-10zM942.1 1042.7l5.0 9h-10zM943.6 1060.9l5.0 9h-10zM940.5 1071.5l5.0 9h-10zM944.9 1089.7l5.0 9h-10zM947.8 1110.8l5.0 9h-10zM947.8 1126.2l5.0 9h-10zM959.3 1095.5l5.0 9h-10zM958.4 1107.0l5.0 9h-10zM967.0 1106.0l5.0 9h-10zM975.6 1104.1l5.0 9h-10zM972.8 1058.1l5.0 9h-10zM970.8 1063.8l5.0 9h-10zM973.7 1071.5l5.0 9h-10zM961.2 1072.5l5.0 9h-10zM968.9 1082.0l5.0 9h-10zM936.3 1137.7l5.0 9h-10zM951.6 1147.3l5.0 9h-10zM978.5 1135.8l5.0 9h-10zM979.5 1141.5l5.0 9h-10zM976.6 1154.0l5.0 9h-10zM984.3 1149.2l5.0 9h-10zM990.0 1151.1l5.0 9h-10zM994.8 1152.1l5.0 9h-10zM986.2 1158.8l5.0 9h-10zM996.7 1160.7l5.0 9h-10zM986.2 1165.5l5.0 9h-10zM986.2 1171.3l5.0 9h-10zM939.2 1174.1l5.0 9h-10zM934.4 1163.6l5.0 9h-10zM983.6 1153.0l5.0 9h-10zM989.4 1155.9l5.0 9h-10zM995.1 1158.8l5.0 9h-10zM999.9 1161.7l5.0 9h-10zM1004.7 1164.6l5.0 9h-10zM1009.5 1166.5l5.0 9h-10zM1014.3 1168.4l5.0 9h-10zM1020.1 1169.9l5.0 9h-10zM1025.8 1171.3l5.0 9h-10zM1031.6 1172.6l5.0 9h-10zM1037.3 1174.1l5.0 9h-10zM1043.1 1175.5l5.0 9h-10zM1048.8 1177.0l5.0 9h-10zM1054.6 1178.4l5.0 9h-10zM1060.4 1179.9l5.0 9h-10zM1066.1 1181.8l5.0 9h-10zM1071.9 1183.7l5.0 9h-10zM1077.6 1185.1l5.0 9h-10zM1083.4 1186.6l5.0 9h-10zM1089.1 1188.0l5.0 9h-10zM1094.9 1189.5l5.0 9h-10zM1100.7 1190.8l5.0 9h-10zM1106.4 1192.4l5.0 9h-10zM1112.2 1193.3l5.0 9h-10zM1116.0 1194.3l5.0 9h-10zM941.4 1042.7l5.0 9h-10zM943.3 1060.9l5.0 9h-10zM940.4 1071.5l5.0 9h-10zM960.6 1073.4l5.0 9h-10zM972.1 1058.1l5.0 9h-10zM971.1 1063.8l5.0 9h-10zM974.0 1071.5l5.0 9h-10zM969.2 1081.1l5.0 9h-10zM944.9 1089.3l5.0 9h-10zM959.6 1095.5l5.0 9h-10zM968.3 1105.1l5.0 9h-10zM975.9 1104.1l5.0 9h-10zM957.7 1106.0l5.0 9h-10zM979.8 1135.8l5.0 9h-10zM978.8 1141.5l5.0 9h-10zM976.9 1154.0l5.0 9h-10zM985.5 1164.6l5.0 9h-10zM986.5 1170.3l5.0 9h-10zM859.8 1136.2l5.0 9h-10zM864.5 1149.6l5.0 9h-10zM883.5 1153.6l5.0 9h-10zM895.3 1140.9l5.0 9h-10zM900.1 1143.3l5.0 9h-10zM906.4 1152.0l5.0 9h-10zM911.2 1151.2l5.0 9h-10zM914.3 1136.2l5.0 9h-10zM935.6 1137.8l5.0 9h-10zM950.7 1148.0l5.0 9h-10zM977.5 1137.8l5.0 9h-10zM979.9 1144.1l5.0 9h-10zM976.7 1154.4l5.0 9h-10zM985.4 1165.4l5.0 9h-10zM986.2 1171.7l5.0 9h-10zM908.0 1166.2l5.0 9h-10zM919.1 1172.5l5.0 9h-10zM922.2 1172.5l5.0 9h-10zM933.3 1163.0l5.0 9h-10zM938.8 1174.1l5.0 9h-10zM928.5 1197.0l5.0 9h-10zM863.0 1207.3l5.0 9h-10zM919.8 1220.7l5.0 9h-10zM923.8 1232.6l5.0 9h-10zM861.4 1234.9l5.0 9h-10zM869.3 1234.9l5.0 9h-10zM825.0 1165.4l5.0 9h-10zM903.3 1304.5l5.0 9h-10zM985.4 1153.6l5.0 9h-10zM990.2 1152.0l5.0 9h-10zM993.3 1155.1l5.0 9h-10zM997.3 1156.7l5.0 9h-10zM1001.2 1159.9l5.0 9h-10zM1005.2 1161.5l5.0 9h-10zM1009.1 1163.0l5.0 9h-10zM1013.1 1164.6l5.0 9h-10zM1017.0 1166.2l5.0 9h-10zM1021.0 1167.8l5.0 9h-10zM1024.9 1169.4l5.0 9h-10zM1028.9 1170.6l5.0 9h-10zM1032.8 1171.7l5.0 9h-10zM1036.8 1172.8l5.0 9h-10zM1040.7 1174.1l5.0 9h-10zM1044.7 1175.4l5.0 9h-10zM1048.6 1177.3l5.0 9h-10zM1053.4 1178.8l5.0 9h-10zM1060.0 1182.0l5.0 9h-10zM1040.0 1172.5l5.0 9h-10zM1044.0 1173.7l5.0 9h-10zM1047.9 1174.9l5.0 9h-10zM1051.9 1176.1l5.0 9h-10zM1055.8 1178.1l5.0 9h-10zM1059.8 1180.0l5.0 9h-10zM1063.7 1182.0l5.0 9h-10zM1067.7 1183.2l5.0 9h-10zM1071.6 1184.4l5.0 9h-10zM1075.6 1185.6l5.0 9h-10zM1079.5 1187.1l5.0 9h-10zM1083.5 1188.7l5.0 9h-10zM1087.4 1190.3l5.0 9h-10zM1091.4 1191.9l5.0 9h-10zM1095.3 1193.5l5.0 9h-10zM1099.3 1195.0l5.0 9h-10zM1103.2 1195.8l5.0 9h-10zM1107.2 1196.6l5.0 9h-10zM1111.1 1197.4l5.0 9h-10zM1115.1 1199.0l5.0 9h-10zM1119.0 1200.6l5.0 9h-10zM1123.0 1202.2l5.0 9h-10zM1126.9 1203.7l5.0 9h-10zM1130.9 1205.3l5.0 9h-10zM1134.8 1206.9l5.0 9h-10zM1138.8 1207.7l5.0 9h-10zM1142.7 1208.5l5.0 9h-10zM1146.7 1209.3l5.0 9h-10zM1150.6 1210.4l5.0 9h-10zM1154.6 1211.6l5.0 9h-10zM1158.5 1212.8l5.0 9h-10zM1162.5 1214.4l5.0 9h-10zM1166.4 1216.0l5.0 9h-10zM1170.4 1217.6l5.0 9h-10zM1174.3 1219.1l5.0 9h-10zM1178.3 1220.7l5.0 9h-10zM1182.2 1222.3l5.0 9h-10zM1186.2 1223.5l5.0 9h-10zM1190.1 1224.7l5.0 9h-10zM1194.1 1225.9l5.0 9h-10zM1198.0 1227.0l5.0 9h-10zM1202.0 1228.2l5.0 9h-10zM1205.9 1229.4l5.0 9h-10zM1209.9 1231.0l5.0 9h-10zM1213.8 1232.6l5.0 9h-10zM1217.8 1234.1l5.0 9h-10zM1221.3 1235.9l5.0 9h-10zM1224.9 1237.7l5.0 9h-10zM1228.0 1236.1l5.0 9h-10zM1231.2 1234.5l5.0 9h-10zM1234.4 1233.0l5.0 9h-10zM1239.1 1232.4l5.0 9h-10zM1243.8 1231.8l5.0 9h-10zM1248.6 1232.4l5.0 9h-10zM1253.3 1233.0l5.0 9h-10zM1257.3 1233.4l5.0 9h-10zM1261.2 1233.8l5.0 9h-10zM1265.2 1234.1l5.0 9h-10zM1269.1 1234.9l5.0 9h-10zM1273.1 1235.7l5.0 9h-10zM1277.0 1236.5l5.0 9h-10zM1281.8 1237.7l5.0 9h-10zM1286.5 1238.9l5.0 9h-10zM1309.0 1217.6l5.0 9h-10zM1314.9 1217.6l5.0 9h-10zM1310.2 1236.5l5.0 9h-10zM1303.1 1236.5l5.0 9h-10zM1325.6 1236.5l5.0 9h-10zM1336.3 1236.5l5.0 9h-10zM1323.2 1250.3l5.0 9h-10zM1333.9 1250.3l5.0 9h-10zM1348.1 1250.3l5.0 9h-10zM1355.2 1250.3l5.0 9h-10zM1362.3 1255.5l5.0 9h-10zM1287.7 1246.0l5.0 9h-10zM1291.2 1263.8l5.0 9h-10zM1296.0 1254.3l5.0 9h-10zM1300.7 1254.3l5.0 9h-10zM1300.7 1286.3l5.0 9h-10zM1317.3 1300.5l5.0 9h-10zM1320.9 1300.5l5.0 9h-10zM1352.9 1300.5l5.0 9h-10zM1357.6 1300.5l5.0 9h-10zM1365.9 1308.8l5.0 9h-10zM1368.3 1318.3l5.0 9h-10zM1357.6 1329.0l5.0 9h-10zM1314.9 1268.5l5.0 9h-10zM1326.8 1268.5l5.0 9h-10zM1333.9 1268.5l5.0 9h-10zM1341.0 1268.5l5.0 9h-10zM1348.1 1268.5l5.0 9h-10zM1355.2 1268.5l5.0 9h-10zM1362.3 1268.5l5.0 9h-10zM1367.1 1268.5l5.0 9h-10z" fill="#00f"/>
<path d="M695.0 727.4l5.0 -9h-10zM699.0 730.4l5.0 -9h-10zM703.3 732.6l5.0 -9h-10zM710.5 738.4l5.0 -9h-10zM716.2 744.1l5.0 -9h-10zM722.0 752.7l5.0 -9h-10zM726.3 758.5l5.0 -9h-10zM729.2 764.3l5.0 -9h-10zM733.5 771.4l5.0 -9h-10zM736.4 778.6l5.0 -9h-10zM739.2 785.8l5.0 -9h-10zM742.1 793.0l5.0 -9h-10zM745.0 800.2l5.0 -9h-10zM747.9 807.4l5.0 -9h-10zM750.8 814.6l5.0 -9h-10zM753.6 821.8l5.0 -9h-10zM756.5 829.0l5.0 -9h-10zM759.4 837.6l5.0 -9h-10zM762.3 846.3l5.0 -9h-10zM764.6 854.9l5.0 -9h-10zM766.6 863.5l5.0 -9h-10zM768.9 872.2l5.0 -9h-10zM770.9 880.8l5.0 -9h-10zM772.9 889.5l5.0 -9h-10zM775.2 898.1l5.0 -9h-10zM777.5 906.7l5.0 -9h-10zM779.5 915.4l5.0 -9h-10zM781.0 924.0l5.0 -9h-10zM783.3 932.6l5.0 -9h-10zM785.3 941.3l5.0 -9h-10zM787.3 949.9l5.0 -9h-10zM789.6 957.1l5.0 -9h-10zM792.5 975.8l5.0 -9h-10zM796.8 978.7l5.0 -9h-10zM799.7 977.2l5.0 -9h-10zM802.6 998.8l5.0 -9h-10zM806.9 1007.5l5.0 -9h-10zM804.0 1016.1l5.0 -9h-10zM809.8 1024.7l5.0 -9h-10zM815.5 1026.2l5.0 -9h-10zM819.8 1027.6l5.0 -9h-10zM822.7 1034.8l5.0 -9h-10zM825.6 1042.0l5.0 -9h-10zM829.9 1047.7l5.0 -9h-10zM802.0 997.9l5.0 -9h-10zM806.8 1008.4l5.0 -9h-10zM802.9 1017.1l5.0 -9h-10zM807.7 1023.8l5.0 -9h-10zM811.6 1025.7l5.0 -9h-10zM815.4 1025.7l5.0 -9h-10zM819.3 1024.7l5.0 -9h-10zM813.5 1031.4l5.0 -9h-10zM819.3 1037.2l5.0 -9h-10zM826.9 1046.8l5.0 -9h-10zM824.1 1052.6l5.0 -9h-10zM826.9 1062.1l5.0 -9h-10zM821.2 1067.9l5.0 -9h-10zM840.4 1064.1l5.0 -9h-10zM851.9 1061.2l5.0 -9h-10zM850.0 1074.6l5.0 -9h-10zM833.6 1075.6l5.0 -9h-10zM830.8 1080.4l5.0 -9h-10zM838.4 1083.3l5.0 -9h-10zM841.3 1095.7l5.0 -9h-10zM859.5 1098.6l5.0 -9h-10zM835.6 1102.4l5.0 -9h-10zM845.2 1111.1l5.0 -9h-10zM861.5 1114.0l5.0 -9h-10zM853.8 1123.5l5.0 -9h-10zM837.5 1133.1l5.0 -9h-10zM847.1 1133.1l5.0 -9h-10zM881.6 1103.4l5.0 -9h-10zM876.8 1112.0l5.0 -9h-10zM895.0 1113.0l5.0 -9h-10zM902.7 1117.8l5.0 -9h-10zM909.4 1124.5l5.0 -9h-10zM897.0 1127.4l5.0 -9h-10zM886.4 1137.9l5.0 -9h-10zM906.6 1135.1l5.0 -9h-10zM918.1 1137.0l5.0 -9h-10zM922.9 1144.7l5.0 -9h-10zM899.8 1150.4l5.0 -9h-10zM910.4 1152.3l5.0 -9h-10zM907.5 1159.0l5.0 -9h-10zM923.8 1158.1l5.0 -9h-10zM930.5 1165.8l5.0 -9h-10zM934.4 1163.8l5.0 -9h-10zM919.0 1169.6l5.0 -9h-10zM926.7 1167.7l5.0 -9h-10zM940.1 1172.5l5.0 -9h-10zM945.9 1154.2l5.0 -9h-10zM953.6 1172.5l5.0 -9h-10zM962.2 1162.9l5.0 -9h-10zM928.6 1179.2l5.0 -9h-10zM858.6 1167.7l5.0 -9h-10zM869.1 1167.7l5.0 -9h-10zM864.3 1174.4l5.0 -9h-10zM856.7 1177.3l5.0 -9h-10zM871.1 1196.5l5.0 -9h-10zM879.7 1197.4l5.0 -9h-10zM894.1 1188.8l5.0 -9h-10zM945.9 1192.6l5.0 -9h-10zM953.6 1190.7l5.0 -9h-10zM968.9 1191.7l5.0 -9h-10zM976.6 1191.7l5.0 -9h-10zM984.3 1200.3l5.0 -9h-10zM997.7 1037.2l5.0 -9h-10zM998.7 1156.2l5.0 -9h-10zM922.9 1202.2l5.0 -9h-10zM999.0 1036.2l5.0 -9h-10zM1000.9 1156.2l5.0 -9h-10zM1002.8 1179.2l5.0 -9h-10zM1003.8 1199.3l5.0 -9h-10zM975.9 1190.7l5.0 -9h-10zM960.6 1161.9l5.0 -9h-10zM856.6 1177.0l5.0 -9h-10zM858.2 1167.5l5.0 -9h-10zM863.7 1173.1l5.0 -9h-10zM870.1 1167.5l5.0 -9h-10zM870.9 1196.0l5.0 -9h-10zM879.5 1197.5l5.0 -9h-10zM843.2 1254.4l5.0 -9h-10zM862.2 1222.8l5.0 -9h-10zM874.8 1226.8l5.0 -9h-10zM883.5 1271.0l5.0 -9h-10zM914.0 1265.5l5.0 -9h-10zM893.8 1188.9l5.0 -9h-10zM900.1 1151.7l5.0 -9h-10zM908.0 1159.6l5.0 -9h-10zM911.2 1151.7l5.0 -9h-10zM920.6 1153.3l5.0 -9h-10zM922.2 1161.2l5.0 -9h-10zM917.5 1169.1l5.0 -9h-10zM927.0 1165.9l5.0 -9h-10zM931.7 1162.8l5.0 -9h-10zM944.3 1154.1l5.0 -9h-10zM952.2 1171.5l5.0 -9h-10zM938.0 1173.1l5.0 -9h-10zM928.5 1180.2l5.0 -9h-10zM925.4 1201.5l5.0 -9h-10zM935.6 1213.3l5.0 -9h-10zM947.5 1217.3l5.0 -9h-10zM942.8 1199.1l5.0 -9h-10zM953.8 1185.7l5.0 -9h-10zM952.2 1207.0l5.0 -9h-10zM958.6 1216.5l5.0 -9h-10zM937.2 1224.4l5.0 -9h-10zM915.1 1218.9l5.0 -9h-10zM1001.2 1156.5l5.0 -9h-10zM1002.8 1179.4l5.0 -9h-10zM976.7 1190.4l5.0 -9h-10zM985.4 1200.7l5.0 -9h-10zM1003.6 1199.9l5.0 -9h-10zM989.4 1210.2l5.0 -9h-10zM958.6 1240.2l5.0 -9h-10zM968.8 1236.3l5.0 -9h-10zM983.8 1275.8l5.0 -9h-10zM982.3 1279.7l5.0 -9h-10zM990.9 1293.1l5.0 -9h-10zM1007.5 1218.1l5.0 -9h-10zM1012.3 1214.9l5.0 -9h-10zM1013.9 1222.8l5.0 -9h-10zM1004.4 1226.0l5.0 -9h-10zM1017.0 1229.1l5.0 -9h-10zM1024.9 1230.7l5.0 -9h-10zM1032.8 1237.0l5.0 -9h-10zM1040.7 1238.6l5.0 -9h-10zM1048.6 1235.5l5.0 -9h-10zM1058.1 1240.2l5.0 -9h-10zM971.2 1227.6l5.0 -9h-10zM975.9 1230.7l5.0 -9h-10zM980.7 1232.3l5.0 -9h-10zM985.4 1233.9l5.0 -9h-10zM990.2 1235.5l5.0 -9h-10zM994.9 1237.0l5.0 -9h-10zM999.6 1233.9l5.0 -9h-10zM1004.4 1238.6l5.0 -9h-10zM1009.1 1240.2l5.0 -9h-10zM1013.9 1237.0l5.0 -9h-10zM1018.6 1240.2l5.0 -9h-10zM1023.3 1241.8l5.0 -9h-10zM1028.1 1238.6l5.0 -9h-10zM1032.8 1241.8l5.0 -9h-10zM1037.6 1240.2l5.0 -9h-10zM1042.3 1243.4l5.0 -9h-10zM1047.0 1241.8l5.0 -9h-10zM1051.8 1244.9l5.0 -9h-10zM1056.5 1243.4l5.0 -9h-10zM993.3 1246.5l5.0 -9h-10zM987.0 1249.7l5.0 -9h-10zM945.9 1192.8l5.0 -9h-10zM949.1 1205.4l5.0 -9h-10zM960.1 1200.7l5.0 -9h-10zM966.5 1192.8l5.0 -9h-10zM969.6 1205.4l5.0 -9h-10zM974.4 1208.6l5.0 -9h-10zM1040.0 1237.8l5.0 -9h-10zM1043.6 1237.2l5.0 -9h-10zM1047.1 1236.7l5.0 -9h-10zM1049.5 1239.4l5.0 -9h-10zM1051.9 1242.2l5.0 -9h-10zM1054.2 1244.9l5.0 -9h-10zM1057.4 1246.5l5.0 -9h-10zM1060.5 1248.1l5.0 -9h-10zM1063.7 1249.7l5.0 -9h-10zM1067.7 1248.9l5.0 -9h-10zM1071.6 1248.1l5.0 -9h-10zM1075.6 1247.3l5.0 -9h-10zM1079.5 1248.1l5.0 -9h-10zM1083.5 1248.9l5.0 -9h-10zM1087.4 1249.7l5.0 -9h-10zM1091.4 1251.3l5.0 -9h-10zM1095.3 1252.8l5.0 -9h-10zM1099.3 1254.4l5.0 -9h-10zM1103.2 1253.6l5.0 -9h-10zM1107.2 1252.8l5.0 -9h-10zM1111.1 1252.1l5.0 -9h-10zM1115.1 1253.6l5.0 -9h-10zM1119.0 1255.2l5.0 -9h-10zM1123.0 1256.8l5.0 -9h-10zM1126.9 1257.6l5.0 -9h-10zM1130.9 1258.4l5.0 -9h-10zM1134.8 1259.2l5.0 -9h-10zM1138.8 1258.8l5.0 -9h-10zM1142.7 1258.4l5.0 -9h-10zM1146.7 1258.0l5.0 -9h-10zM1150.6 1258.8l5.0 -9h-10zM1154.6 1259.6l5.0 -9h-10zM1158.5 1260.4l5.0 -9h-10zM1162.5 1260.7l5.0 -9h-10zM1166.4 1261.1l5.0 -9h-10zM1170.4 1261.5l5.0 -9h-10zM1174.3 1261.9l5.0 -9h-10zM1178.3 1262.3l5.0 -9h-10zM1182.2 1262.7l5.0 -9h-10zM1186.2 1263.1l5.0 -9h-10zM1190.1 1263.5l5.0 -9h-10zM1194.1 1263.9l5.0 -9h-10zM1198.0 1264.3l5.0 -9h-10zM1202.0 1264.7l5.0 -9h-10zM1205.9 1265.1l5.0 -9h-10zM1209.9 1265.5l5.0 -9h-10zM1213.8 1265.9l5.0 -9h-10zM1217.8 1266.3l5.0 -9h-10zM1221.7 1266.3l5.0 -9h-10zM1225.7 1266.3l5.0 -9h-10zM1229.6 1266.3l5.0 -9h-10zM1233.6 1266.4l5.0 -9h-10zM1237.5 1266.6l5.0 -9h-10zM1241.5 1266.8l5.0 -9h-10zM1245.4 1267.0l5.0 -9h-10zM1249.4 1267.2l5.0 -9h-10zM1253.3 1267.5l5.0 -9h-10zM1257.3 1267.5l5.0 -9h-10zM1261.2 1267.5l5.0 -9h-10zM1265.2 1267.5l5.0 -9h-10zM1269.1 1267.7l5.0 -9h-10zM1273.1 1267.9l5.0 -9h-10zM1277.0 1268.2l5.0 -9h-10zM1281.8 1267.2l5.0 -9h-10zM1286.5 1266.3l5.0 -9h-10z" fill="#f0f"/>
</g>
<path d="M597.5 727v14M597.5 1358v-14M740.5 727v14M740.5 1358v-14M883.5 727v14M883.5 1358v-14M1026.5 727v14M1026.5 1358v-14M1169.5 727v14M1169.5 1358v-14M1312.5 727v14M1312.5 1358v-14M454.5 832.1h14M1455.5 832.1h-14M454.5 937.3h14M1455.5 937.3h-14M454.5 1042.5h14M1455.5 1042.5h-14M454.5 1147.6h14M1455.5 1147.6h-14M454.5 1252.8h14M1455.5 1252.8h-14" stroke="#000" stroke-width="3" fill="none" stroke-linecap="round"/>
<rect x="454.5" y="727" width="1001.0" height="631" fill="none" stroke="#000" stroke-width="3"/>
<text x="454.5" y="1402" text-anchor="middle" style="font-family:Liberation Sans,Arial,sans-serif;font-size:31.5px">10<tspan dy="-15.5" style="font-size:17px">-3</tspan></text>
<text x="597.5" y="1402" text-anchor="middle" style="font-family:Liberation Sans,Arial,sans-serif;font-size:31.5px">10<tspan dy="-15.5" style="font-size:17px">-2</tspan></text>
<text x="740.5" y="1402" text-anchor="middle" style="font-family:Liberation Sans,Arial,sans-serif;font-size:31.5px">10<tspan dy="-15.5" style="font-size:17px">-1</tspan></text>
<text x="883.5" y="1402" text-anchor="middle" style="font-family:Liberation Sans,Arial,sans-serif;font-size:31.5px">10<tspan dy="-15.5" style="font-size:17px">0</tspan></text>
<text x="1026.5" y="1402" text-anchor="middle" style="font-family:Liberation Sans,Arial,sans-serif;font-size:31.5px">10<tspan dy="-15.5" style="font-size:17px">1</tspan></text>
<text x="1169.5" y="1402" text-anchor="middle" style="font-family:Liberation Sans,Arial,sans-serif;font-size:31.5px">10<tspan dy="-15.5" style="font-size:17px">2</tspan></text>
<text x="1312.5" y="1402" text-anchor="middle" style="font-family:Liberation Sans,Arial,sans-serif;font-size:31.5px">10<tspan dy="-15.5" style="font-size:17px">3</tspan></text>
<text x="1455.5" y="1402" text-anchor="middle" style="font-family:Liberation Sans,Arial,sans-serif;font-size:31.5px">10<tspan dy="-15.5" style="font-size:17px">4</tspan></text>
<text x="438.5" y="738.5" text-anchor="end" style="font-family:Liberation Sans,Arial,sans-serif;font-size:31.5px">10<tspan dy="-15.5" style="font-size:17px">5</tspan></text>
<text x="438.5" y="843.6" text-anchor="end" style="font-family:Liberation Sans,Arial,sans-serif;font-size:31.5px">10<tspan dy="-15.5" style="font-size:17px">4</tspan></text>
<text x="438.5" y="948.8" text-anchor="end" style="font-family:Liberation Sans,Arial,sans-serif;font-size:31.5px">10<tspan dy="-15.5" style="font-size:17px">3</tspan></text>
<text x="438.5" y="1054.0" text-anchor="end" style="font-family:Liberation Sans,Arial,sans-serif;font-size:31.5px">10<tspan dy="-15.5" style="font-size:17px">2</tspan></text>
<text x="438.5" y="1159.1" text-anchor="end" style="font-family:Liberation Sans,Arial,sans-serif;font-size:31.5px">10<tspan dy="-15.5" style="font-size:17px">1</tspan></text>
<text x="438.5" y="1264.2" text-anchor="end" style="font-family:Liberation Sans,Arial,sans-serif;font-size:31.5px">10<tspan dy="-15.5" style="font-size:17px">0</tspan></text>
<text x="438.5" y="1369.4" text-anchor="end" style="font-family:Liberation Sans,Arial,sans-serif;font-size:31.5px">10<tspan dy="-15.5" style="font-size:17px">-1</tspan></text>
<path d="M493.5 1219.9h7v7h-7z" fill="#000"/>
<circle cx="497" cy="1258.2" r="4.3" fill="#f00"/>
<path d="M497.0 1286.7l5.0 9h-10z" fill="#00f"/>
<path d="M497.0 1332.8l5.0 -9h-10z" fill="#f0f"/>
<text x="535" y="1232.9" style="font-family:Liberation Serif,Times New Roman,serif;font-size:27.3px">KeS201</text>
<text x="535" y="1267.7" style="font-family:Liberation Serif,Times New Roman,serif;font-size:27.3px">KeS2-1-6</text>
<text x="535" y="1301.6" style="font-family:Liberation Serif,Times New Roman,serif;font-size:27.3px">KeS2-2-10</text>
<text x="535" y="1336.9" style="font-family:Liberation Serif,Times New Roman,serif;font-size:27.3px">KeS3-1</text>
</svg>
<svg style="position:absolute;left:0;top:0" width="1772" height="1531">
<g style="font-family:Liberation Sans,Arial,sans-serif;font-weight:bold;font-size:42px">
<text x="-0.8" y="39.8">A</text><text x="903.8" y="39.8">B</text><text x="310" y="749.3">C</text></g>
<g style="font-family:Liberation Serif,Times New Roman,serif;font-size:35.7px">
<text x="184" y="581.3">Pressure diffusion in pseudo-homogeneous fracture</text>
<text x="464.5" y="629.7">network</text>
<text x="1164" y="581.3">Successive pressure diffusion in the</text>
<text x="1189" y="629.4">“pore–fracture–fault” model</text>
<text x="493.5" y="1523.5">PPD curve of Keshen-2 gas reservoir derived from well test</text>
</g>
<text x="881.5" y="1459.7" style="font-family:Liberation Serif,Times New Roman,serif,Noto Serif CJK SC;font-size:38px">Δ<tspan style="font-style:italic">t</tspan>（h）</text>
<text transform="translate(351,1209) rotate(-90)" style="font-family:Liberation Serif,Times New Roman,serif,Noto Serif CJK SC;font-size:45px"><tspan style="font-style:italic">PPD</tspan>（MPa<tspan dy="-17" style="font-size:28px">2</tspan><tspan dy="17">/cP）</tspan></text>
</svg>
</div></body></html>
